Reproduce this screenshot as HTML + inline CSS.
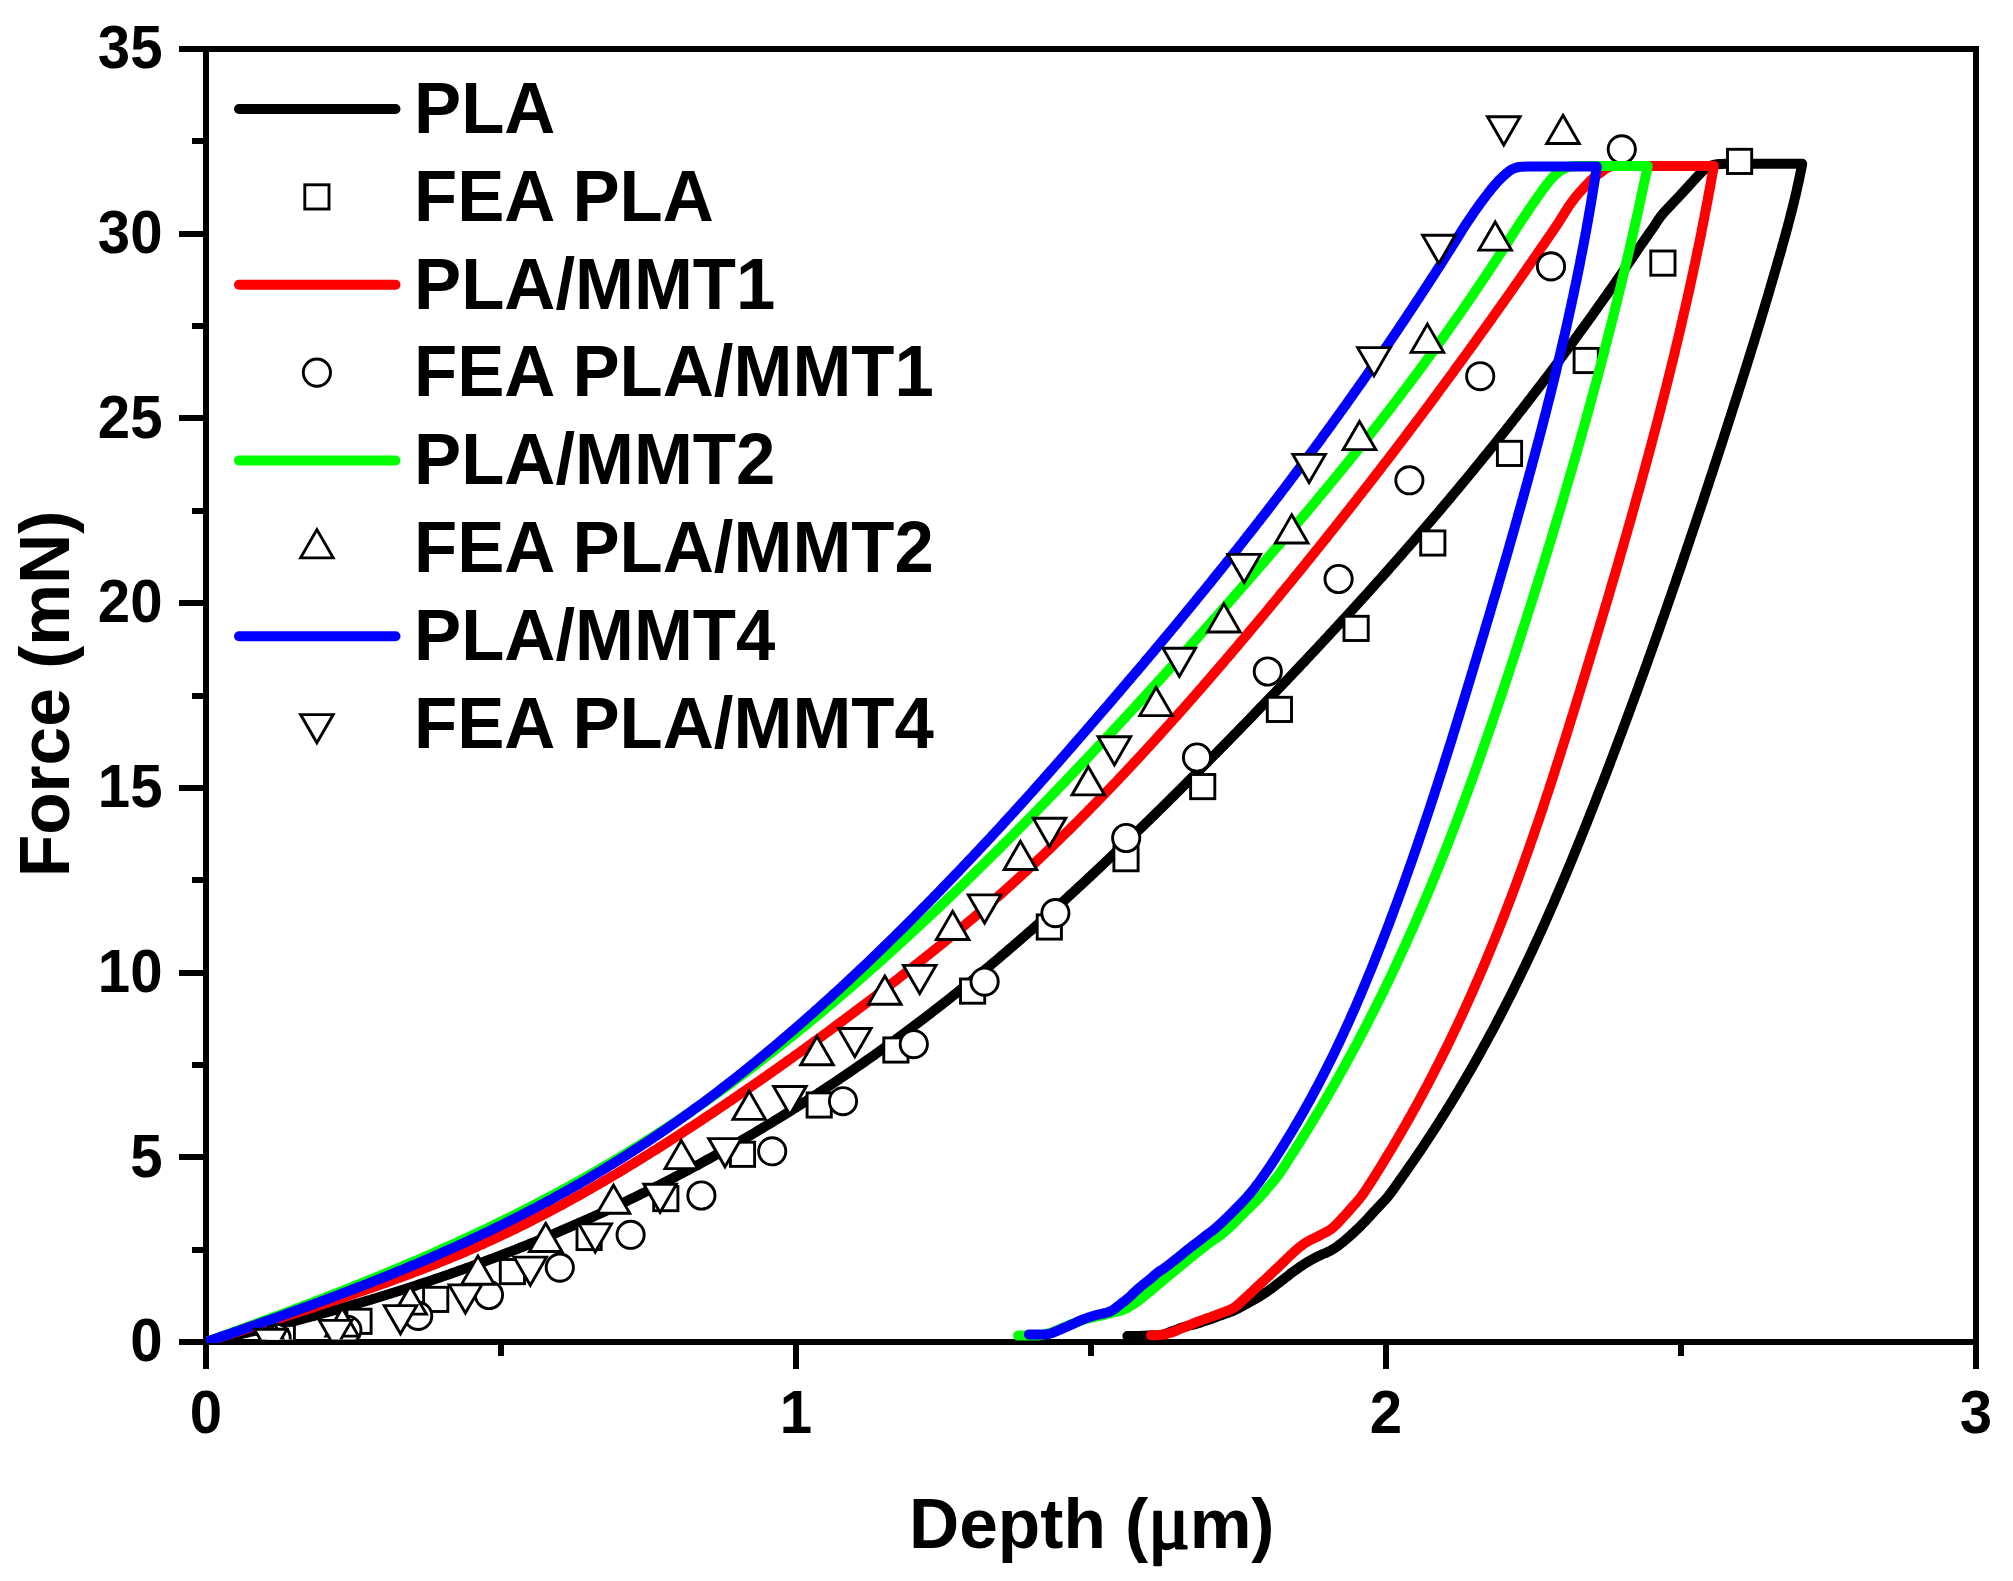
<!DOCTYPE html>
<html lang="en"><head><meta charset="utf-8"><title>Force vs Depth</title>
<style>html,body{margin:0;padding:0;background:#fff}body{width:2013px;height:1581px;overflow:hidden}svg{display:block}text{font-family:"Liberation Sans",Arial,sans-serif;font-weight:bold;fill:#000}.tk{font-size:60.4px}.lg{font-size:71.8px}.ti{font-size:71px}.mu{font-family:"Liberation Serif","DejaVu Serif",serif;font-weight:normal;font-size:79px;stroke:#000;stroke-width:2.4px;stroke-linejoin:round}</style></head><body>
<svg width="2013" height="1581" viewBox="0 0 2013 1581">
<rect width="2013" height="1581" fill="#fff"/>
<defs><clipPath id="cl"><rect x="206.0" y="49.0" width="1770.0" height="1294.0"/></clipPath><clipPath id="cm"><rect x="206.0" y="49.0" width="1770.0" height="1290.5"/></clipPath></defs>
<g stroke="#000" stroke-width="6" fill="none" shape-rendering="crispEdges">
<rect x="206.0" y="49.0" width="1770.0" height="1293.0"/>
<path d="M179.0 1342.0H206.0M192.0 1249.6H206.0M179.0 1157.3H206.0M192.0 1064.9H206.0M179.0 972.6H206.0M192.0 880.2H206.0M179.0 787.9H206.0M192.0 695.5H206.0M179.0 603.1H206.0M192.0 510.8H206.0M179.0 418.4H206.0M192.0 326.1H206.0M179.0 233.7H206.0M192.0 141.4H206.0M179.0 49.0H206.0M206.0 1342.0V1369.0M501.0 1342.0V1356.0M796.0 1342.0V1369.0M1091.0 1342.0V1356.0M1386.0 1342.0V1369.0M1681.0 1342.0V1356.0M1976.0 1342.0V1369.0"/>
</g>
<text class="tk" text-anchor="end" transform="translate(162.5 1361.3) scale(0.9635 1)">0</text>
<text class="tk" text-anchor="end" transform="translate(162.5 1176.6) scale(0.9635 1)">5</text>
<text class="tk" text-anchor="end" transform="translate(162.5 991.9) scale(0.9635 1)">10</text>
<text class="tk" text-anchor="end" transform="translate(162.5 807.2) scale(0.9635 1)">15</text>
<text class="tk" text-anchor="end" transform="translate(162.5 622.4) scale(0.9635 1)">20</text>
<text class="tk" text-anchor="end" transform="translate(162.5 437.7) scale(0.9635 1)">25</text>
<text class="tk" text-anchor="end" transform="translate(162.5 253.0) scale(0.9635 1)">30</text>
<text class="tk" text-anchor="end" transform="translate(162.5 68.3) scale(0.9635 1)">35</text>
<text class="tk" text-anchor="middle" transform="translate(206.0 1432.6) scale(0.9635 1)">0</text>
<text class="tk" text-anchor="middle" transform="translate(796.0 1432.6) scale(0.9635 1)">1</text>
<text class="tk" text-anchor="middle" transform="translate(1386.0 1432.6) scale(0.9635 1)">2</text>
<text class="tk" text-anchor="middle" transform="translate(1976.0 1432.6) scale(0.9635 1)">3</text>
<text class="ti" text-anchor="middle" transform="translate(1091.8 1548.0) scale(0.978 1)">Depth (<tspan class="mu">μ</tspan>m)</text>
<text class="ti" text-anchor="middle" transform="translate(69.0 694.0) rotate(-90) scale(0.978 1)">Force (mN)</text>
<path clip-path="url(#cl)" d="M206.0 1342.0L208.4 1341.5L210.9 1340.9L213.3 1340.4L215.8 1339.9L218.2 1339.3L220.7 1338.8L223.1 1338.2L225.6 1337.7L228.0 1337.1L230.4 1336.6L232.9 1336.0L235.3 1335.4L237.8 1334.9L240.2 1334.3L242.6 1333.7L245.1 1333.2L247.5 1332.6L249.9 1332.0L252.4 1331.4L254.8 1330.9L257.2 1330.3L259.7 1329.7L262.1 1329.1L264.5 1328.5L267.0 1327.9L269.4 1327.3L271.8 1326.7L274.3 1326.1L276.7 1325.5L279.1 1324.9L281.6 1324.3L284.0 1323.7L286.4 1323.1L288.8 1322.4L291.3 1321.8L293.7 1321.2L296.1 1320.6L298.5 1319.9L301.0 1319.3L303.4 1318.7L305.8 1318.0L308.2 1317.4L310.6 1316.7L313.1 1316.1L315.5 1315.4L317.9 1314.8L320.3 1314.1L322.7 1313.5L325.1 1312.8L327.5 1312.1L330.0 1311.5L332.4 1310.8L334.8 1310.1L337.2 1309.4L339.6 1308.8L342.0 1308.1L344.4 1307.4L346.8 1306.7L349.2 1306.0L351.6 1305.3L354.0 1304.6L356.4 1303.9L358.8 1303.2L361.2 1302.5L363.6 1301.8L366.0 1301.1L368.4 1300.4L370.8 1299.7L373.2 1298.9L375.6 1298.2L378.0 1297.5L380.4 1296.7L382.8 1296.0L385.2 1295.3L387.6 1294.5L390.0 1293.8L392.4 1293.0L394.8 1292.3L397.2 1291.5L399.5 1290.8L401.9 1290.0L404.3 1289.3L406.7 1288.5L409.1 1287.7L411.5 1286.9L413.8 1286.2L416.2 1285.4L418.6 1284.6L421.0 1283.8L423.4 1283.0L425.7 1282.2L428.1 1281.5L430.5 1280.7L432.8 1279.9L435.2 1279.0L437.6 1278.2L440.0 1277.4L442.3 1276.6L444.7 1275.8L447.1 1275.0L449.4 1274.2L451.8 1273.3L454.1 1272.5L456.5 1271.7L458.9 1270.8L461.2 1270.0L463.6 1269.1L465.9 1268.3L468.3 1267.4L470.6 1266.6L473.0 1265.7L475.3 1264.9L477.7 1264.0L480.0 1263.1L482.4 1262.3L484.7 1261.4L487.1 1260.5L489.4 1259.6L491.8 1258.8L494.1 1257.9L496.5 1257.0L498.8 1256.1L501.1 1255.2L503.5 1254.3L505.8 1253.4L508.1 1252.5L510.5 1251.6L512.8 1250.7L515.1 1249.8L517.5 1248.8L519.8 1247.9L522.1 1247.0L524.4 1246.1L526.8 1245.1L529.1 1244.2L531.4 1243.2L533.7 1242.3L536.0 1241.4L538.4 1240.4L540.7 1239.4L543.0 1238.5L545.3 1237.5L547.6 1236.6L549.9 1235.6L552.2 1234.6L554.5 1233.7L556.8 1232.7L559.1 1231.7L561.4 1230.7L563.7 1229.7L566.0 1228.7L568.3 1227.7L570.6 1226.7L572.9 1225.7L575.2 1224.7L577.5 1223.7L579.8 1222.7L582.1 1221.7L584.4 1220.7L586.7 1219.7L588.9 1218.6L591.2 1217.6L593.5 1216.6L595.8 1215.5L598.1 1214.5L600.3 1213.5L602.6 1212.4L604.9 1211.4L607.2 1210.3L609.4 1209.3L611.7 1208.2L614.0 1207.1L616.2 1206.1L618.5 1205.0L620.8 1203.9L623.0 1202.9L625.3 1201.8L627.5 1200.7L629.8 1199.6L632.0 1198.5L634.3 1197.4L636.6 1196.3L638.8 1195.2L641.1 1194.1L643.3 1193.0L645.5 1191.9L647.8 1190.8L650.0 1189.7L652.3 1188.6L654.5 1187.5L656.7 1186.3L659.0 1185.2L661.2 1184.1L663.4 1182.9L665.7 1181.8L667.9 1180.6L670.1 1179.5L672.3 1178.4L674.6 1177.2L676.8 1176.0L679.0 1174.9L681.2 1173.7L683.4 1172.6L685.6 1171.4L687.9 1170.2L690.1 1169.0L692.3 1167.9L694.5 1166.7L696.7 1165.5L698.9 1164.3L701.1 1163.1L703.3 1161.9L705.5 1160.7L707.7 1159.5L709.9 1158.3L712.1 1157.1L714.3 1155.9L716.4 1154.7L718.6 1153.4L720.8 1152.2L723.0 1151.0L725.2 1149.8L727.4 1148.5L729.5 1147.3L731.7 1146.1L733.9 1144.8L736.1 1143.6L738.2 1142.3L740.4 1141.1L742.6 1139.8L744.7 1138.6L746.9 1137.3L749.1 1136.0L751.2 1134.8L753.4 1133.5L755.5 1132.2L757.7 1130.9L759.8 1129.7L762.0 1128.4L764.1 1127.1L766.3 1125.8L768.4 1124.5L770.6 1123.2L772.7 1121.9L774.8 1120.6L777.0 1119.3L779.1 1118.0L781.2 1116.7L783.4 1115.4L785.5 1114.0L787.6 1112.7L789.7 1111.4L791.9 1110.1L794.0 1108.7L796.1 1107.4L798.2 1106.1L800.3 1104.7L802.4 1103.4L804.5 1102.0L806.7 1100.7L808.8 1099.3L810.9 1098.0L813.0 1096.6L815.1 1095.2L817.2 1093.9L819.3 1092.5L821.4 1091.1L823.4 1089.8L825.5 1088.4L827.6 1087.0L829.7 1085.6L831.8 1084.2L833.9 1082.8L836.0 1081.4L838.0 1080.0L840.1 1078.6L842.2 1077.2L844.3 1075.8L846.3 1074.4L848.4 1073.0L850.5 1071.6L852.5 1070.2L854.6 1068.8L856.6 1067.3L858.7 1065.9L860.8 1064.5L862.8 1063.1L864.9 1061.6L866.9 1060.2L869.0 1058.7L871.0 1057.3L873.1 1055.9L875.1 1054.4L877.1 1053.0L879.2 1051.5L881.2 1050.0L883.2 1048.6L885.3 1047.1L887.3 1045.6L889.3 1044.2L891.4 1042.7L893.4 1041.2L895.4 1039.8L897.4 1038.3L899.4 1036.8L901.4 1035.3L903.5 1033.8L905.5 1032.3L907.5 1030.8L909.5 1029.3L911.5 1027.8L913.5 1026.3L915.5 1024.8L917.5 1023.3L919.5 1021.8L921.5 1020.3L923.5 1018.8L925.5 1017.3L927.4 1015.7L929.4 1014.2L931.4 1012.7L933.4 1011.1L935.4 1009.6L937.4 1008.1L939.3 1006.5L941.3 1005.0L943.3 1003.5L945.2 1001.9L947.2 1000.4L949.2 998.8L951.1 997.3L953.1 995.7L955.1 994.1L957.0 992.6L959.0 991.0L960.9 989.4L962.9 987.9L964.8 986.3L966.8 984.7L968.7 983.1L970.6 981.6L972.6 980.0L974.5 978.4L976.5 976.8L978.4 975.2L980.3 973.6L982.2 972.0L984.2 970.4L986.1 968.8L988.0 967.2L989.9 965.6L991.9 964.0L993.8 962.4L995.7 960.8L997.6 959.2L999.5 957.6L1001.4 955.9L1003.3 954.3L1005.2 952.7L1007.1 951.1L1009.0 949.4L1010.9 947.8L1012.8 946.2L1014.7 944.5L1016.6 942.9L1018.5 941.2L1020.4 939.6L1022.3 938.0L1024.2 936.3L1026.1 934.7L1027.9 933.0L1029.8 931.4L1031.7 929.7L1033.6 928.0L1035.4 926.4L1037.3 924.7L1039.2 923.1L1041.1 921.4L1042.9 919.7L1044.8 918.1L1046.7 916.4L1048.5 914.7L1050.4 913.0L1052.2 911.4L1054.1 909.7L1056.0 908.0L1057.8 906.3L1059.7 904.6L1061.5 903.0L1063.4 901.3L1065.2 899.6L1067.1 897.9L1068.9 896.2L1070.7 894.5L1072.6 892.8L1074.4 891.1L1076.3 889.4L1078.1 887.7L1079.9 886.0L1081.8 884.3L1083.6 882.6L1085.4 880.9L1087.3 879.2L1089.1 877.5L1090.9 875.8L1092.8 874.1L1094.6 872.3L1096.4 870.6L1098.2 868.9L1100.1 867.2L1101.9 865.5L1103.7 863.8L1105.5 862.0L1107.3 860.3L1109.1 858.6L1111.0 856.9L1112.8 855.1L1114.6 853.4L1116.4 851.7L1118.2 850.0L1120.0 848.2L1121.8 846.5L1123.6 844.8L1125.4 843.0L1127.2 841.3L1129.0 839.5L1130.8 837.8L1132.6 836.1L1134.4 834.3L1136.2 832.6L1138.0 830.8L1139.8 829.1L1141.6 827.4L1143.4 825.6L1145.2 823.9L1147.0 822.1L1148.8 820.4L1150.6 818.6L1152.4 816.9L1154.2 815.1L1155.9 813.4L1157.7 811.6L1159.5 809.8L1161.3 808.1L1163.1 806.3L1164.9 804.6L1166.6 802.8L1168.4 801.1L1170.2 799.3L1172.0 797.5L1173.8 795.8L1175.5 794.0L1177.3 792.2L1179.1 790.5L1180.9 788.7L1182.6 786.9L1184.4 785.2L1186.2 783.4L1188.0 781.6L1189.7 779.9L1191.5 778.1L1193.3 776.3L1195.0 774.5L1196.8 772.8L1198.6 771.0L1200.3 769.2L1202.1 767.4L1203.8 765.7L1205.6 763.9L1207.4 762.1L1209.1 760.3L1210.9 758.5L1212.6 756.8L1214.4 755.0L1216.2 753.2L1217.9 751.4L1219.7 749.6L1221.4 747.8L1223.2 746.1L1224.9 744.3L1226.7 742.5L1228.4 740.7L1230.2 738.9L1231.9 737.1L1233.7 735.3L1235.4 733.5L1237.2 731.7L1238.9 729.9L1240.7 728.1L1242.4 726.3L1244.2 724.5L1245.9 722.8L1247.6 721.0L1249.4 719.2L1251.1 717.4L1252.9 715.6L1254.6 713.8L1256.3 711.9L1258.1 710.1L1259.8 708.3L1261.5 706.5L1263.3 704.7L1265.0 702.9L1266.7 701.1L1268.5 699.3L1270.2 697.5L1271.9 695.7L1273.7 693.9L1275.4 692.1L1277.1 690.3L1278.9 688.5L1280.6 686.6L1282.3 684.8L1284.0 683.0L1285.8 681.2L1287.5 679.4L1289.2 677.6L1290.9 675.8L1292.7 673.9L1294.4 672.1L1296.1 670.3L1297.8 668.5L1299.5 666.7L1301.2 664.8L1303.0 663.0L1304.7 661.2L1306.4 659.4L1308.1 657.5L1309.8 655.7L1311.5 653.9L1313.2 652.1L1315.0 650.2L1316.7 648.4L1318.4 646.6L1320.1 644.7L1321.8 642.9L1323.5 641.1L1325.2 639.2L1326.9 637.4L1328.6 635.6L1330.3 633.7L1332.0 631.9L1333.7 630.1L1335.4 628.2L1337.1 626.4L1338.8 624.5L1340.5 622.7L1342.2 620.8L1343.9 619.0L1345.6 617.2L1347.3 615.3L1348.9 613.5L1350.6 611.6L1352.3 609.8L1354.0 607.9L1355.7 606.1L1357.4 604.2L1359.1 602.4L1360.7 600.5L1362.4 598.7L1364.1 596.8L1365.8 594.9L1367.5 593.1L1369.1 591.2L1370.8 589.4L1372.5 587.5L1374.2 585.6L1375.8 583.8L1377.5 581.9L1379.2 580.0L1380.8 578.2L1382.5 576.3L1384.2 574.4L1385.8 572.6L1387.5 570.7L1389.2 568.8L1390.8 566.9L1392.5 565.1L1394.1 563.2L1395.8 561.3L1397.4 559.4L1399.1 557.6L1400.7 555.7L1402.4 553.8L1404.0 551.9L1405.7 550.0L1407.3 548.1L1409.0 546.3L1410.6 544.4L1412.3 542.5L1413.9 540.6L1415.6 538.7L1417.2 536.8L1418.8 534.9L1420.5 533.0L1422.1 531.1L1423.7 529.2L1425.4 527.3L1427.0 525.4L1428.6 523.5L1430.3 521.6L1431.9 519.7L1433.5 517.8L1435.1 515.9L1436.8 514.0L1438.4 512.1L1440.0 510.2L1441.6 508.3L1443.2 506.4L1444.8 504.4L1446.5 502.5L1448.1 500.6L1449.7 498.7L1451.3 496.8L1452.9 494.9L1454.5 492.9L1456.1 491.0L1457.7 489.1L1459.3 487.2L1460.9 485.2L1462.5 483.3L1464.1 481.4L1465.7 479.5L1467.3 477.5L1468.9 475.6L1470.5 473.7L1472.1 471.7L1473.7 469.8L1475.2 467.9L1476.8 465.9L1478.4 464.0L1480.0 462.0L1481.6 460.1L1483.1 458.2L1484.7 456.2L1486.3 454.3L1487.9 452.3L1489.4 450.4L1491.0 448.4L1492.6 446.5L1494.2 444.5L1495.7 442.6L1497.3 440.6L1498.8 438.7L1500.4 436.7L1502.0 434.7L1503.5 432.8L1505.1 430.8L1506.6 428.9L1508.2 426.9L1509.7 424.9L1511.3 423.0L1512.8 421.0L1514.4 419.0L1515.9 417.1L1517.5 415.1L1519.0 413.1L1520.5 411.1L1522.1 409.2L1523.6 407.2L1525.2 405.2L1526.7 403.2L1528.2 401.2L1529.7 399.3L1531.3 397.3L1532.8 395.3L1534.3 393.3L1535.9 391.3L1537.4 389.3L1538.9 387.3L1540.4 385.4L1541.9 383.4L1543.4 381.4L1545.0 379.4L1546.5 377.4L1548.0 375.4L1549.5 373.4L1551.0 371.4L1552.5 369.4L1554.0 367.4L1555.5 365.4L1557.0 363.4L1558.5 361.4L1560.0 359.4L1561.5 357.3L1563.0 355.3L1564.5 353.3L1566.0 351.3L1567.4 349.3L1568.9 347.3L1570.4 345.3L1571.9 343.3L1573.4 341.2L1574.9 339.2L1576.3 337.2L1577.8 335.2L1579.3 333.1L1580.8 331.1L1582.2 329.1L1583.7 327.1L1585.2 325.0L1586.6 323.0L1588.1 321.0L1589.5 318.9L1591.0 316.9L1592.5 314.9L1593.9 312.8L1595.4 310.8L1596.8 308.8L1598.3 306.7L1599.7 304.7L1601.2 302.6L1602.6 300.6L1604.1 298.6L1605.5 296.5L1607.0 294.5L1608.4 292.4L1609.8 290.4L1611.3 288.3L1612.7 286.3L1614.1 284.2L1615.6 282.2L1617.0 280.1L1618.4 278.0L1619.8 276.0L1621.3 273.9L1622.7 271.9L1624.1 269.8L1625.5 267.7L1626.9 265.7L1628.4 263.6L1629.8 261.5L1631.2 259.5L1632.6 257.4L1634.0 255.3L1635.4 253.2L1636.8 251.2L1638.2 249.1L1639.6 247.0L1641.0 245.0L1642.4 242.9L1643.9 240.9L1645.3 238.8L1646.8 236.8L1648.2 234.7L1649.6 232.7L1651.1 230.6L1652.5 228.5L1653.9 226.5L1655.3 224.4L1656.6 222.3L1658.0 220.2L1659.5 218.1L1660.9 216.1L1662.5 214.2L1664.1 212.3L1665.8 210.4L1667.5 208.6L1669.3 206.8L1671.0 205.0L1672.7 203.1L1674.4 201.3L1676.2 199.5L1677.9 197.7L1679.6 195.9L1681.3 194.0L1683.0 192.2L1684.7 190.3L1686.4 188.5L1688.1 186.7L1689.7 184.8L1691.4 183.0L1693.1 181.1L1694.8 179.3L1696.5 177.4L1698.2 175.6L1700.0 173.8L1701.7 172.0L1703.6 170.3L1705.6 168.8L1707.6 167.3L1709.8 166.2L1712.2 165.3L1714.6 164.7L1717.1 164.3L1719.6 164.0L1722.1 163.9L1724.6 163.8L1727.1 163.8L1729.6 163.8L1732.1 163.8L1734.6 163.8L1737.1 163.8L1739.6 163.8L1742.1 163.8L1744.6 163.8L1747.1 163.8L1749.6 163.8L1752.1 163.8L1754.6 163.8L1757.1 163.8L1759.6 163.8L1762.1 163.8L1764.6 163.8L1767.2 163.8L1769.7 163.8L1772.2 163.8L1774.7 163.8L1777.2 163.8L1779.7 163.8L1782.2 163.8L1784.7 163.8L1787.2 163.8L1789.7 163.8L1792.2 163.8L1794.7 163.8L1797.2 163.8L1799.7 163.8L1802.2 163.8L1801.8 166.3L1801.3 168.7L1800.8 171.2L1800.3 173.6L1799.8 176.1L1799.3 178.6L1798.8 181.0L1798.2 183.5L1797.7 185.9L1797.1 188.4L1796.6 190.8L1796.0 193.3L1795.5 195.7L1794.9 198.1L1794.3 200.6L1793.7 203.0L1793.1 205.4L1792.5 207.9L1791.9 210.3L1791.3 212.7L1790.6 215.2L1790.0 217.6L1789.4 220.0L1788.7 222.5L1788.1 224.9L1787.5 227.3L1786.8 229.7L1786.2 232.1L1785.5 234.6L1784.8 237.0L1784.2 239.4L1783.5 241.8L1782.8 244.2L1782.1 246.7L1781.5 249.1L1780.8 251.5L1780.1 253.9L1779.4 256.3L1778.7 258.7L1778.0 261.1L1777.3 263.5L1776.6 266.0L1775.9 268.4L1775.2 270.8L1774.5 273.2L1773.8 275.6L1773.1 278.0L1772.4 280.4L1771.7 282.8L1771.0 285.2L1770.3 287.6L1769.6 290.0L1768.9 292.4L1768.2 294.8L1767.5 297.2L1766.8 299.6L1766.0 302.1L1765.3 304.5L1764.6 306.9L1763.9 309.3L1763.2 311.7L1762.4 314.1L1761.7 316.5L1761.0 318.9L1760.3 321.3L1759.5 323.7L1758.8 326.1L1758.1 328.5L1757.3 330.9L1756.6 333.3L1755.9 335.7L1755.1 338.1L1754.4 340.5L1753.7 342.9L1752.9 345.3L1752.2 347.6L1751.4 350.0L1750.7 352.4L1750.0 354.8L1749.2 357.2L1748.5 359.6L1747.7 362.0L1747.0 364.4L1746.2 366.8L1745.5 369.2L1744.7 371.6L1744.0 374.0L1743.2 376.4L1742.5 378.8L1741.7 381.2L1741.0 383.6L1740.2 385.9L1739.4 388.3L1738.7 390.7L1737.9 393.1L1737.2 395.5L1736.4 397.9L1735.6 400.3L1734.9 402.7L1734.1 405.1L1733.3 407.5L1732.6 409.8L1731.8 412.2L1731.1 414.6L1730.3 417.0L1729.5 419.4L1728.7 421.8L1728.0 424.2L1727.2 426.6L1726.4 428.9L1725.7 431.3L1724.9 433.7L1724.1 436.1L1723.4 438.5L1722.6 440.9L1721.8 443.3L1721.0 445.7L1720.3 448.0L1719.5 450.4L1718.7 452.8L1717.9 455.2L1717.2 457.6L1716.4 460.0L1715.6 462.3L1714.8 464.7L1714.0 467.1L1713.3 469.5L1712.5 471.9L1711.7 474.3L1710.9 476.7L1710.1 479.0L1709.3 481.4L1708.6 483.8L1707.8 486.2L1707.0 488.6L1706.2 490.9L1705.4 493.3L1704.6 495.7L1703.8 498.1L1703.1 500.5L1702.3 502.9L1701.5 505.2L1700.7 507.6L1699.9 510.0L1699.1 512.4L1698.3 514.8L1697.5 517.1L1696.7 519.5L1695.9 521.9L1695.1 524.3L1694.3 526.6L1693.5 529.0L1692.7 531.4L1691.9 533.8L1691.1 536.2L1690.3 538.5L1689.5 540.9L1688.7 543.3L1687.9 545.7L1687.1 548.0L1686.3 550.4L1685.5 552.8L1684.7 555.2L1683.9 557.5L1683.1 559.9L1682.3 562.3L1681.5 564.7L1680.7 567.0L1679.9 569.4L1679.1 571.8L1678.2 574.2L1677.4 576.5L1676.6 578.9L1675.8 581.3L1675.0 583.6L1674.2 586.0L1673.3 588.4L1672.5 590.8L1671.7 593.1L1670.9 595.5L1670.1 597.9L1669.2 600.2L1668.4 602.6L1667.6 605.0L1666.8 607.3L1666.0 609.7L1665.1 612.1L1664.3 614.5L1663.5 616.8L1662.6 619.2L1661.8 621.6L1661.0 623.9L1660.1 626.3L1659.3 628.7L1658.5 631.0L1657.6 633.4L1656.8 635.8L1656.0 638.1L1655.1 640.5L1654.3 642.8L1653.5 645.2L1652.6 647.6L1651.8 649.9L1650.9 652.3L1650.1 654.7L1649.2 657.0L1648.4 659.4L1647.6 661.7L1646.7 664.1L1645.9 666.5L1645.0 668.8L1644.2 671.2L1643.3 673.5L1642.5 675.9L1641.6 678.3L1640.7 680.6L1639.9 683.0L1639.0 685.3L1638.2 687.7L1637.3 690.0L1636.5 692.4L1635.6 694.8L1634.7 697.1L1633.9 699.5L1633.0 701.8L1632.1 704.2L1631.3 706.5L1630.4 708.9L1629.5 711.2L1628.7 713.6L1627.8 715.9L1626.9 718.3L1626.1 720.6L1625.2 723.0L1624.3 725.3L1623.4 727.7L1622.6 730.0L1621.7 732.4L1620.8 734.7L1619.9 737.1L1619.0 739.4L1618.2 741.8L1617.3 744.1L1616.4 746.5L1615.5 748.8L1614.6 751.2L1613.7 753.5L1612.8 755.9L1611.9 758.2L1611.0 760.6L1610.2 762.9L1609.3 765.2L1608.4 767.6L1607.5 769.9L1606.6 772.3L1605.7 774.6L1604.8 777.0L1603.9 779.3L1603.0 781.6L1602.1 784.0L1601.2 786.3L1600.2 788.7L1599.3 791.0L1598.4 793.3L1597.5 795.7L1596.6 798.0L1595.7 800.3L1594.8 802.7L1593.9 805.0L1593.0 807.3L1592.0 809.7L1591.1 812.0L1590.2 814.3L1589.3 816.7L1588.3 819.0L1587.4 821.3L1586.5 823.7L1585.6 826.0L1584.6 828.3L1583.7 830.7L1582.8 833.0L1581.8 835.3L1580.9 837.6L1580.0 840.0L1579.0 842.3L1578.1 844.6L1577.1 846.9L1576.2 849.3L1575.2 851.6L1574.3 853.9L1573.3 856.2L1572.4 858.6L1571.4 860.9L1570.5 863.2L1569.5 865.5L1568.6 867.8L1567.6 870.1L1566.6 872.5L1565.7 874.8L1564.7 877.1L1563.7 879.4L1562.7 881.7L1561.8 884.0L1560.8 886.3L1559.8 888.6L1558.8 890.9L1557.8 893.2L1556.8 895.5L1555.8 897.8L1554.8 900.2L1553.9 902.5L1552.9 904.8L1551.8 907.1L1550.8 909.4L1549.8 911.6L1548.8 913.9L1547.8 916.2L1546.8 918.5L1545.8 920.8L1544.8 923.1L1543.7 925.4L1542.7 927.7L1541.7 930.0L1540.6 932.3L1539.6 934.5L1538.6 936.8L1537.5 939.1L1536.5 941.4L1535.4 943.7L1534.4 945.9L1533.3 948.2L1532.3 950.5L1531.2 952.8L1530.1 955.0L1529.1 957.3L1528.0 959.6L1526.9 961.9L1525.9 964.1L1524.8 966.4L1523.7 968.6L1522.6 970.9L1521.5 973.2L1520.4 975.4L1519.3 977.7L1518.2 979.9L1517.1 982.2L1516.0 984.4L1514.9 986.7L1513.8 988.9L1512.7 991.2L1511.6 993.4L1510.4 995.7L1509.3 997.9L1508.2 1000.1L1507.1 1002.4L1505.9 1004.6L1504.8 1006.9L1503.6 1009.1L1502.5 1011.3L1501.3 1013.5L1500.2 1015.8L1499.0 1018.0L1497.9 1020.2L1496.7 1022.4L1495.5 1024.7L1494.4 1026.9L1493.2 1029.1L1492.0 1031.3L1490.8 1033.5L1489.6 1035.7L1488.4 1037.9L1487.2 1040.1L1486.0 1042.3L1484.8 1044.5L1483.6 1046.7L1482.4 1048.9L1481.2 1051.1L1480.0 1053.3L1478.8 1055.5L1477.5 1057.7L1476.3 1059.9L1475.1 1062.1L1473.8 1064.3L1472.6 1066.4L1471.3 1068.6L1470.1 1070.8L1468.8 1073.0L1467.6 1075.1L1466.3 1077.3L1465.1 1079.5L1463.8 1081.6L1462.5 1083.8L1461.2 1085.9L1460.0 1088.1L1458.7 1090.3L1457.4 1092.4L1456.1 1094.6L1454.8 1096.7L1453.5 1098.8L1452.2 1101.0L1450.9 1103.1L1449.6 1105.3L1448.2 1107.4L1446.9 1109.5L1445.6 1111.7L1444.3 1113.8L1442.9 1115.9L1441.6 1118.0L1440.3 1120.2L1438.9 1122.3L1437.6 1124.4L1436.2 1126.5L1434.9 1128.6L1433.5 1130.7L1432.1 1132.8L1430.8 1134.9L1429.4 1137.0L1428.0 1139.1L1426.6 1141.2L1425.2 1143.3L1423.9 1145.4L1422.5 1147.5L1421.1 1149.6L1419.7 1151.6L1418.3 1153.7L1416.8 1155.8L1415.4 1157.9L1414.0 1159.9L1412.6 1162.0L1411.2 1164.1L1409.7 1166.1L1408.3 1168.2L1406.9 1170.2L1405.4 1172.3L1404.0 1174.3L1402.5 1176.4L1401.1 1178.4L1399.6 1180.5L1398.2 1182.5L1396.7 1184.6L1395.3 1186.7L1393.9 1188.7L1392.4 1190.8L1390.9 1192.8L1389.4 1194.8L1387.8 1196.7L1386.2 1198.6L1384.6 1200.5L1382.8 1202.3L1381.1 1204.1L1379.4 1206.0L1377.6 1207.8L1375.9 1209.6L1374.2 1211.4L1372.5 1213.3L1370.8 1215.2L1369.1 1217.0L1367.4 1218.9L1365.7 1220.7L1364.0 1222.5L1362.2 1224.3L1360.5 1226.1L1358.7 1227.8L1356.9 1229.6L1355.0 1231.3L1353.2 1233.0L1351.4 1234.7L1349.5 1236.4L1347.6 1238.0L1345.7 1239.7L1343.8 1241.3L1341.8 1242.9L1339.9 1244.4L1337.8 1245.9L1335.8 1247.4L1333.7 1248.8L1331.6 1250.1L1329.4 1251.2L1327.1 1252.3L1324.8 1253.3L1322.5 1254.2L1320.2 1255.3L1317.9 1256.3L1315.7 1257.5L1313.5 1258.7L1311.3 1259.9L1309.1 1261.1L1306.9 1262.4L1304.8 1263.7L1302.7 1265.1L1300.6 1266.5L1298.5 1267.9L1296.5 1269.4L1294.5 1270.8L1292.4 1272.3L1290.4 1273.8L1288.5 1275.4L1286.5 1276.9L1284.5 1278.5L1282.5 1280.0L1280.5 1281.5L1278.6 1283.1L1276.6 1284.6L1274.6 1286.1L1272.6 1287.7L1270.6 1289.2L1268.5 1290.6L1266.5 1292.0L1264.4 1293.4L1262.3 1294.8L1260.1 1296.1L1258.0 1297.4L1255.8 1298.7L1253.7 1299.9L1251.5 1301.1L1249.3 1302.3L1247.1 1303.5L1244.9 1304.7L1242.7 1306.0L1240.5 1307.2L1238.3 1308.4L1236.0 1309.5L1233.8 1310.6L1231.5 1311.5L1229.1 1312.4L1226.7 1313.2L1224.4 1314.1L1222.0 1314.9L1219.6 1315.7L1217.3 1316.6L1214.9 1317.5L1212.6 1318.3L1210.2 1319.2L1207.8 1320.0L1205.5 1320.8L1203.1 1321.6L1200.7 1322.4L1198.3 1323.2L1195.9 1323.9L1193.5 1324.6L1191.1 1325.2L1188.6 1325.7L1186.2 1326.4L1183.8 1327.0L1181.4 1327.8L1179.0 1328.7L1176.7 1329.6L1174.3 1330.5L1172.0 1331.3L1169.6 1332.2L1167.2 1333.1L1164.8 1334.0L1162.4 1334.6L1160.0 1335.0L1157.5 1335.2L1155.1 1335.3L1152.6 1335.4L1150.2 1335.5L1147.7 1335.6L1145.2 1335.7L1142.7 1335.8L1140.2 1335.9L1137.6 1335.9L1135.1 1335.9L1132.5 1336.0L1130.0 1336.0L1127.4 1336.0" fill="none" stroke="#000" stroke-width="10" stroke-linejoin="round" stroke-linecap="round"/>
<g clip-path="url(#cm)" fill="#fff" stroke="#000" stroke-width="2.9" stroke-linejoin="miter">
<rect x="1727.5" y="149.3" width="24.2" height="24.2"/>
<rect x="1650.8" y="251.0" width="24.2" height="24.2"/>
<rect x="1574.1" y="348.4" width="24.2" height="24.2"/>
<rect x="1497.4" y="441.3" width="24.2" height="24.2"/>
<rect x="1420.7" y="530.9" width="24.2" height="24.2"/>
<rect x="1344.0" y="616.3" width="24.2" height="24.2"/>
<rect x="1267.3" y="697.3" width="24.2" height="24.2"/>
<rect x="1190.6" y="774.5" width="24.2" height="24.2"/>
<rect x="1113.9" y="846.6" width="24.2" height="24.2"/>
<rect x="1037.2" y="914.9" width="24.2" height="24.2"/>
<rect x="960.5" y="979.0" width="24.2" height="24.2"/>
<rect x="883.8" y="1037.9" width="24.2" height="24.2"/>
<rect x="807.1" y="1092.9" width="24.2" height="24.2"/>
<rect x="730.4" y="1142.2" width="24.2" height="24.2"/>
<rect x="653.7" y="1186.5" width="24.2" height="24.2"/>
<rect x="577.0" y="1225.4" width="24.2" height="24.2"/>
<rect x="500.3" y="1259.5" width="24.2" height="24.2"/>
<rect x="423.6" y="1287.3" width="24.2" height="24.2"/>
<rect x="346.9" y="1309.2" width="24.2" height="24.2"/>
<rect x="270.2" y="1325.4" width="24.2" height="24.2"/>
</g>
<path clip-path="url(#cl)" d="M206.0 1342.0L208.4 1341.2L210.8 1340.4L213.1 1339.7L215.5 1338.9L217.9 1338.1L220.3 1337.3L222.7 1336.5L225.0 1335.8L227.4 1335.0L229.8 1334.2L232.2 1333.5L234.6 1332.7L237.0 1331.9L239.3 1331.2L241.7 1330.4L244.1 1329.6L246.5 1328.9L248.9 1328.1L251.3 1327.3L253.7 1326.6L256.0 1325.8L258.4 1325.0L260.8 1324.3L263.2 1323.5L265.6 1322.7L268.0 1322.0L270.4 1321.2L272.7 1320.4L275.1 1319.7L277.5 1318.9L279.9 1318.2L282.3 1317.4L284.7 1316.6L287.1 1315.9L289.4 1315.1L291.8 1314.3L294.2 1313.6L296.6 1312.8L299.0 1312.0L301.4 1311.2L303.7 1310.5L306.1 1309.7L308.5 1308.9L310.9 1308.2L313.3 1307.4L315.7 1306.6L318.0 1305.8L320.4 1305.0L322.8 1304.3L325.2 1303.5L327.6 1302.7L329.9 1301.9L332.3 1301.1L334.7 1300.3L337.1 1299.5L339.4 1298.7L341.8 1297.9L344.2 1297.2L346.6 1296.4L348.9 1295.5L351.3 1294.7L353.7 1293.9L356.0 1293.1L358.4 1292.3L360.8 1291.5L363.2 1290.7L365.5 1289.9L367.9 1289.0L370.2 1288.2L372.6 1287.4L375.0 1286.6L377.3 1285.7L379.7 1284.9L382.1 1284.0L384.4 1283.2L386.8 1282.4L389.1 1281.5L391.5 1280.7L393.8 1279.8L396.2 1278.9L398.5 1278.1L400.9 1277.2L403.2 1276.3L405.6 1275.5L407.9 1274.6L410.3 1273.7L412.6 1272.8L415.0 1271.9L417.3 1271.0L419.6 1270.1L422.0 1269.2L424.3 1268.3L426.7 1267.4L429.0 1266.5L431.3 1265.6L433.7 1264.7L436.0 1263.8L438.3 1262.8L440.6 1261.9L443.0 1261.0L445.3 1260.0L447.6 1259.1L449.9 1258.1L452.2 1257.2L454.5 1256.2L456.8 1255.2L459.2 1254.3L461.5 1253.3L463.8 1252.3L466.1 1251.3L468.4 1250.3L470.7 1249.3L473.0 1248.3L475.3 1247.3L477.6 1246.3L479.8 1245.3L482.1 1244.3L484.4 1243.3L486.7 1242.2L489.0 1241.2L491.3 1240.2L493.5 1239.1L495.8 1238.1L498.1 1237.0L500.4 1236.0L502.6 1234.9L504.9 1233.8L507.2 1232.7L509.4 1231.7L511.7 1230.6L513.9 1229.5L516.2 1228.4L518.4 1227.3L520.7 1226.2L522.9 1225.1L525.2 1224.0L527.4 1222.8L529.6 1221.7L531.9 1220.6L534.1 1219.4L536.3 1218.3L538.6 1217.1L540.8 1216.0L543.0 1214.8L545.2 1213.7L547.4 1212.5L549.7 1211.4L551.9 1210.2L554.1 1209.0L556.3 1207.8L558.5 1206.6L560.7 1205.5L562.9 1204.3L565.1 1203.1L567.3 1201.9L569.5 1200.7L571.7 1199.5L573.9 1198.2L576.1 1197.0L578.3 1195.8L580.5 1194.6L582.6 1193.4L584.8 1192.1L587.0 1190.9L589.2 1189.7L591.4 1188.4L593.5 1187.2L595.7 1185.9L597.9 1184.7L600.0 1183.4L602.2 1182.2L604.4 1180.9L606.5 1179.6L608.7 1178.4L610.8 1177.1L613.0 1175.8L615.2 1174.5L617.3 1173.2L619.5 1172.0L621.6 1170.7L623.8 1169.4L625.9 1168.1L628.0 1166.8L630.2 1165.5L632.3 1164.2L634.5 1162.9L636.6 1161.6L638.7 1160.3L640.9 1159.0L643.0 1157.6L645.1 1156.3L647.3 1155.0L649.4 1153.7L651.5 1152.3L653.6 1151.0L655.8 1149.7L657.9 1148.4L660.0 1147.0L662.1 1145.7L664.2 1144.3L666.3 1143.0L668.4 1141.6L670.6 1140.3L672.7 1138.9L674.8 1137.6L676.9 1136.2L679.0 1134.9L681.1 1133.5L683.2 1132.1L685.3 1130.8L687.4 1129.4L689.5 1128.0L691.6 1126.7L693.7 1125.3L695.8 1123.9L697.9 1122.6L700.0 1121.2L702.0 1119.8L704.1 1118.4L706.2 1117.0L708.3 1115.6L710.4 1114.2L712.5 1112.9L714.6 1111.5L716.6 1110.1L718.7 1108.7L720.8 1107.3L722.9 1105.9L724.9 1104.5L727.0 1103.1L729.1 1101.7L731.2 1100.3L733.2 1098.9L735.3 1097.4L737.4 1096.0L739.4 1094.6L741.5 1093.2L743.6 1091.8L745.6 1090.4L747.7 1088.9L749.8 1087.5L751.8 1086.1L753.9 1084.7L755.9 1083.2L758.0 1081.8L760.1 1080.4L762.1 1078.9L764.2 1077.5L766.2 1076.1L768.3 1074.6L770.3 1073.2L772.4 1071.8L774.4 1070.3L776.5 1068.9L778.5 1067.4L780.6 1066.0L782.6 1064.5L784.6 1063.1L786.7 1061.6L788.7 1060.2L790.8 1058.7L792.8 1057.3L794.8 1055.8L796.9 1054.3L798.9 1052.9L800.9 1051.4L803.0 1050.0L805.0 1048.5L807.0 1047.0L809.0 1045.5L811.1 1044.1L813.1 1042.6L815.1 1041.1L817.2 1039.7L819.2 1038.2L821.2 1036.7L823.2 1035.2L825.2 1033.7L827.3 1032.2L829.3 1030.8L831.3 1029.3L833.3 1027.8L835.3 1026.3L837.3 1024.8L839.3 1023.3L841.3 1021.8L843.4 1020.3L845.4 1018.8L847.4 1017.3L849.4 1015.8L851.4 1014.3L853.4 1012.8L855.4 1011.3L857.4 1009.8L859.4 1008.3L861.4 1006.8L863.4 1005.3L865.4 1003.8L867.4 1002.3L869.4 1000.7L871.4 999.2L873.4 997.7L875.4 996.2L877.3 994.7L879.3 993.1L881.3 991.6L883.3 990.1L885.3 988.6L887.3 987.0L889.3 985.5L891.2 984.0L893.2 982.5L895.2 980.9L897.2 979.4L899.2 977.8L901.1 976.3L903.1 974.8L905.1 973.2L907.1 971.7L909.0 970.1L911.0 968.6L913.0 967.0L914.9 965.5L916.9 963.9L918.9 962.4L920.8 960.8L922.8 959.3L924.8 957.7L926.7 956.2L928.7 954.6L930.6 953.0L932.6 951.5L934.5 949.9L936.5 948.3L938.4 946.7L940.4 945.2L942.3 943.6L944.3 942.0L946.2 940.4L948.1 938.8L950.1 937.2L952.0 935.7L954.0 934.1L955.9 932.5L957.8 930.9L959.7 929.3L961.7 927.7L963.6 926.1L965.5 924.5L967.4 922.8L969.3 921.2L971.3 919.6L973.2 918.0L975.1 916.4L977.0 914.7L978.9 913.1L980.8 911.5L982.7 909.9L984.6 908.2L986.5 906.6L988.4 904.9L990.3 903.3L992.1 901.6L994.0 900.0L995.9 898.3L997.8 896.7L999.7 895.0L1001.5 893.4L1003.4 891.7L1005.3 890.0L1007.2 888.4L1009.0 886.7L1010.9 885.0L1012.7 883.3L1014.6 881.7L1016.4 880.0L1018.3 878.3L1020.1 876.6L1022.0 874.9L1023.8 873.2L1025.7 871.5L1027.5 869.8L1029.3 868.1L1031.2 866.4L1033.0 864.7L1034.8 863.0L1036.7 861.2L1038.5 859.5L1040.3 857.8L1042.1 856.1L1043.9 854.3L1045.7 852.6L1047.5 850.9L1049.4 849.2L1051.2 847.4L1053.0 845.7L1054.8 843.9L1056.6 842.2L1058.4 840.4L1060.1 838.7L1061.9 836.9L1063.7 835.2L1065.5 833.4L1067.3 831.7L1069.1 829.9L1070.9 828.1L1072.6 826.4L1074.4 824.6L1076.2 822.8L1078.0 821.1L1079.7 819.3L1081.5 817.5L1083.2 815.7L1085.0 814.0L1086.8 812.2L1088.5 810.4L1090.3 808.6L1092.0 806.8L1093.8 805.0L1095.5 803.2L1097.3 801.4L1099.0 799.6L1100.8 797.8L1102.5 796.0L1104.3 794.2L1106.0 792.4L1107.7 790.6L1109.5 788.8L1111.2 787.0L1112.9 785.2L1114.7 783.4L1116.4 781.6L1118.1 779.8L1119.8 777.9L1121.5 776.1L1123.3 774.3L1125.0 772.5L1126.7 770.6L1128.4 768.8L1130.1 767.0L1131.8 765.2L1133.5 763.3L1135.2 761.5L1136.9 759.7L1138.7 757.8L1140.4 756.0L1142.1 754.1L1143.7 752.3L1145.4 750.5L1147.1 748.6L1148.8 746.8L1150.5 744.9L1152.2 743.1L1153.9 741.2L1155.6 739.4L1157.3 737.5L1159.0 735.7L1160.6 733.8L1162.3 731.9L1164.0 730.1L1165.7 728.2L1167.3 726.4L1169.0 724.5L1170.7 722.6L1172.4 720.8L1174.0 718.9L1175.7 717.0L1177.4 715.2L1179.0 713.3L1180.7 711.4L1182.4 709.5L1184.0 707.7L1185.7 705.8L1187.3 703.9L1189.0 702.0L1190.6 700.2L1192.3 698.3L1194.0 696.4L1195.6 694.5L1197.3 692.6L1198.9 690.7L1200.6 688.8L1202.2 687.0L1203.8 685.1L1205.5 683.2L1207.1 681.3L1208.8 679.4L1210.4 677.5L1212.0 675.6L1213.7 673.7L1215.3 671.8L1217.0 669.9L1218.6 668.0L1220.2 666.1L1221.9 664.2L1223.5 662.3L1225.1 660.4L1226.7 658.5L1228.4 656.6L1230.0 654.7L1231.6 652.8L1233.2 650.9L1234.9 649.0L1236.5 647.1L1238.1 645.2L1239.7 643.2L1241.3 641.3L1242.9 639.4L1244.6 637.5L1246.2 635.6L1247.8 633.7L1249.4 631.7L1251.0 629.8L1252.6 627.9L1254.2 626.0L1255.8 624.1L1257.4 622.2L1259.1 620.2L1260.7 618.3L1262.3 616.4L1263.9 614.5L1265.5 612.5L1267.1 610.6L1268.7 608.7L1270.3 606.7L1271.9 604.8L1273.5 602.9L1275.1 601.0L1276.7 599.0L1278.3 597.1L1279.8 595.2L1281.4 593.2L1283.0 591.3L1284.6 589.4L1286.2 587.4L1287.8 585.5L1289.4 583.6L1291.0 581.6L1292.6 579.7L1294.1 577.7L1295.7 575.8L1297.3 573.9L1298.9 571.9L1300.5 570.0L1302.0 568.0L1303.6 566.1L1305.2 564.1L1306.8 562.2L1308.4 560.2L1309.9 558.3L1311.5 556.3L1313.1 554.4L1314.6 552.4L1316.2 550.5L1317.8 548.5L1319.4 546.6L1320.9 544.6L1322.5 542.7L1324.1 540.7L1325.6 538.8L1327.2 536.8L1328.7 534.8L1330.3 532.9L1331.9 530.9L1333.4 529.0L1335.0 527.0L1336.5 525.0L1338.1 523.1L1339.7 521.1L1341.2 519.2L1342.8 517.2L1344.3 515.2L1345.9 513.3L1347.4 511.3L1349.0 509.3L1350.5 507.4L1352.1 505.4L1353.6 503.4L1355.2 501.4L1356.7 499.5L1358.2 497.5L1359.8 495.5L1361.3 493.6L1362.9 491.6L1364.4 489.6L1366.0 487.6L1367.5 485.7L1369.0 483.7L1370.6 481.7L1372.1 479.7L1373.6 477.7L1375.2 475.8L1376.7 473.8L1378.2 471.8L1379.8 469.8L1381.3 467.8L1382.8 465.8L1384.3 463.8L1385.9 461.9L1387.4 459.9L1388.9 457.9L1390.4 455.9L1392.0 453.9L1393.5 451.9L1395.0 449.9L1396.5 447.9L1398.0 445.9L1399.5 443.9L1401.1 442.0L1402.6 440.0L1404.1 438.0L1405.6 436.0L1407.1 434.0L1408.6 432.0L1410.1 430.0L1411.6 428.0L1413.1 426.0L1414.7 424.0L1416.2 422.0L1417.7 420.0L1419.2 418.0L1420.7 416.0L1422.2 414.0L1423.7 411.9L1425.2 409.9L1426.7 407.9L1428.2 405.9L1429.7 403.9L1431.2 401.9L1432.7 399.9L1434.1 397.9L1435.6 395.9L1437.1 393.9L1438.6 391.8L1440.1 389.8L1441.6 387.8L1443.1 385.8L1444.6 383.8L1446.1 381.8L1447.5 379.7L1449.0 377.7L1450.5 375.7L1452.0 373.7L1453.5 371.7L1454.9 369.6L1456.4 367.6L1457.9 365.6L1459.4 363.6L1460.9 361.6L1462.3 359.5L1463.8 357.5L1465.3 355.5L1466.7 353.5L1468.2 351.4L1469.7 349.4L1471.1 347.4L1472.6 345.3L1474.1 343.3L1475.5 341.3L1477.0 339.2L1478.5 337.2L1479.9 335.2L1481.4 333.1L1482.9 331.1L1484.3 329.1L1485.8 327.0L1487.2 325.0L1488.7 323.0L1490.1 320.9L1491.6 318.9L1493.0 316.8L1494.5 314.8L1495.9 312.7L1497.4 310.7L1498.8 308.7L1500.3 306.6L1501.7 304.6L1503.2 302.5L1504.6 300.5L1506.1 298.4L1507.5 296.4L1509.0 294.3L1510.4 292.3L1511.8 290.2L1513.3 288.2L1514.7 286.1L1516.2 284.1L1517.6 282.0L1519.0 280.0L1520.5 277.9L1521.9 275.9L1523.3 273.8L1524.8 271.8L1526.2 269.7L1527.6 267.6L1529.0 265.6L1530.5 263.5L1531.9 261.5L1533.3 259.4L1534.7 257.4L1536.2 255.3L1537.6 253.2L1539.0 251.2L1540.4 249.1L1541.8 247.0L1543.3 245.0L1544.7 242.9L1546.1 240.8L1547.5 238.8L1548.9 236.7L1550.4 234.6L1551.8 232.6L1553.2 230.5L1554.6 228.4L1556.0 226.4L1557.4 224.3L1558.8 222.2L1560.1 220.1L1561.4 217.9L1562.8 215.8L1564.1 213.7L1565.4 211.5L1566.8 209.4L1568.1 207.3L1569.5 205.2L1571.0 203.2L1572.4 201.2L1573.9 199.2L1575.5 197.2L1577.1 195.3L1578.7 193.4L1580.4 191.5L1582.1 189.7L1583.8 187.8L1585.5 186.0L1587.2 184.2L1588.9 182.3L1590.7 180.5L1592.5 178.8L1594.3 177.1L1596.3 175.6L1598.3 174.2L1600.4 172.7L1602.4 171.2L1604.4 169.6L1606.5 168.3L1608.8 167.1L1611.1 166.4L1613.6 166.1L1616.1 165.9L1618.6 165.9L1621.1 165.9L1623.6 165.9L1626.1 165.9L1628.6 165.9L1631.1 165.9L1633.6 165.9L1636.1 165.9L1638.7 165.9L1641.2 165.9L1643.7 165.9L1646.2 165.9L1648.7 165.9L1651.2 165.9L1653.7 165.9L1656.2 165.9L1658.7 165.9L1661.2 165.9L1663.7 165.9L1666.2 165.9L1668.7 165.9L1671.2 165.9L1673.7 165.9L1676.2 165.9L1678.7 165.9L1681.2 165.9L1683.7 165.9L1686.2 165.9L1688.8 165.9L1691.3 165.9L1693.8 165.9L1696.3 165.9L1698.8 165.9L1701.3 165.9L1703.8 165.9L1706.3 165.9L1708.8 165.9L1711.3 165.9L1713.8 165.9L1713.4 168.4L1713.0 170.8L1712.5 173.3L1712.1 175.8L1711.6 178.2L1711.2 180.7L1710.8 183.2L1710.3 185.6L1709.9 188.1L1709.4 190.6L1708.9 193.0L1708.5 195.5L1708.0 198.0L1707.6 200.4L1707.1 202.9L1706.6 205.3L1706.2 207.8L1705.7 210.3L1705.2 212.7L1704.7 215.2L1704.3 217.7L1703.8 220.1L1703.3 222.6L1702.8 225.0L1702.3 227.5L1701.8 229.9L1701.4 232.4L1700.9 234.9L1700.4 237.3L1699.9 239.8L1699.4 242.2L1698.9 244.7L1698.4 247.1L1697.8 249.6L1697.3 252.0L1696.8 254.5L1696.3 257.0L1695.8 259.4L1695.3 261.9L1694.8 264.3L1694.2 266.8L1693.7 269.2L1693.2 271.7L1692.7 274.1L1692.1 276.6L1691.6 279.0L1691.1 281.5L1690.5 283.9L1690.0 286.4L1689.5 288.8L1688.9 291.2L1688.4 293.7L1687.8 296.1L1687.3 298.6L1686.7 301.0L1686.2 303.5L1685.6 305.9L1685.1 308.4L1684.5 310.8L1683.9 313.2L1683.4 315.7L1682.8 318.1L1682.3 320.6L1681.7 323.0L1681.1 325.5L1680.6 327.9L1680.0 330.3L1679.4 332.8L1678.8 335.2L1678.3 337.7L1677.7 340.1L1677.1 342.5L1676.5 345.0L1675.9 347.4L1675.3 349.8L1674.8 352.3L1674.2 354.7L1673.6 357.1L1673.0 359.6L1672.4 362.0L1671.8 364.4L1671.2 366.9L1670.6 369.3L1670.0 371.7L1669.4 374.2L1668.8 376.6L1668.2 379.0L1667.6 381.5L1667.0 383.9L1666.4 386.3L1665.7 388.8L1665.1 391.2L1664.5 393.6L1663.9 396.1L1663.3 398.5L1662.7 400.9L1662.0 403.3L1661.4 405.8L1660.8 408.2L1660.2 410.6L1659.5 413.0L1658.9 415.5L1658.3 417.9L1657.7 420.3L1657.0 422.8L1656.4 425.2L1655.8 427.6L1655.1 430.0L1654.5 432.4L1653.8 434.9L1653.2 437.3L1652.6 439.7L1651.9 442.1L1651.3 444.6L1650.6 447.0L1650.0 449.4L1649.3 451.8L1648.7 454.2L1648.0 456.7L1647.4 459.1L1646.7 461.5L1646.1 463.9L1645.4 466.3L1644.8 468.8L1644.1 471.2L1643.4 473.6L1642.8 476.0L1642.1 478.4L1641.5 480.8L1640.8 483.3L1640.1 485.7L1639.5 488.1L1638.8 490.5L1638.1 492.9L1637.4 495.3L1636.8 497.7L1636.1 500.2L1635.4 502.6L1634.8 505.0L1634.1 507.4L1633.4 509.8L1632.7 512.2L1632.0 514.6L1631.4 517.1L1630.7 519.5L1630.0 521.9L1629.3 524.3L1628.6 526.7L1627.9 529.1L1627.3 531.5L1626.6 533.9L1625.9 536.3L1625.2 538.7L1624.5 541.2L1623.8 543.6L1623.1 546.0L1622.4 548.4L1621.7 550.8L1621.0 553.2L1620.3 555.6L1619.7 558.0L1619.0 560.4L1618.3 562.8L1617.6 565.2L1616.9 567.6L1616.2 570.0L1615.5 572.5L1614.8 574.9L1614.0 577.3L1613.3 579.7L1612.6 582.1L1611.9 584.5L1611.2 586.9L1610.5 589.3L1609.8 591.7L1609.1 594.1L1608.4 596.5L1607.7 598.9L1607.0 601.3L1606.3 603.7L1605.5 606.1L1604.8 608.5L1604.1 610.9L1603.4 613.3L1602.7 615.7L1602.0 618.1L1601.3 620.5L1600.5 622.9L1599.8 625.3L1599.1 627.7L1598.4 630.1L1597.7 632.5L1596.9 634.9L1596.2 637.3L1595.5 639.7L1594.8 642.1L1594.1 644.5L1593.3 646.9L1592.6 649.3L1591.9 651.7L1591.2 654.1L1590.4 656.5L1589.7 658.9L1589.0 661.3L1588.2 663.7L1587.5 666.1L1586.8 668.5L1586.1 670.9L1585.3 673.3L1584.6 675.7L1583.9 678.1L1583.1 680.5L1582.4 682.9L1581.7 685.3L1580.9 687.7L1580.2 690.1L1579.5 692.5L1578.7 694.9L1578.0 697.3L1577.3 699.7L1576.5 702.1L1575.8 704.5L1575.1 706.9L1574.3 709.2L1573.6 711.6L1572.9 714.0L1572.1 716.4L1571.4 718.8L1570.6 721.2L1569.9 723.6L1569.1 726.0L1568.4 728.4L1567.7 730.8L1566.9 733.2L1566.2 735.6L1565.4 738.0L1564.7 740.4L1563.9 742.7L1563.2 745.1L1562.4 747.5L1561.6 749.9L1560.9 752.3L1560.1 754.7L1559.4 757.1L1558.6 759.5L1557.8 761.9L1557.1 764.2L1556.3 766.6L1555.5 769.0L1554.8 771.4L1554.0 773.8L1553.2 776.2L1552.5 778.6L1551.7 780.9L1550.9 783.3L1550.1 785.7L1549.4 788.1L1548.6 790.5L1547.8 792.8L1547.0 795.2L1546.2 797.6L1545.4 800.0L1544.6 802.4L1543.9 804.7L1543.1 807.1L1542.3 809.5L1541.5 811.9L1540.7 814.2L1539.9 816.6L1539.1 819.0L1538.3 821.4L1537.5 823.7L1536.6 826.1L1535.8 828.5L1535.0 830.8L1534.2 833.2L1533.4 835.6L1532.6 838.0L1531.7 840.3L1530.9 842.7L1530.1 845.1L1529.3 847.4L1528.4 849.8L1527.6 852.1L1526.8 854.5L1525.9 856.9L1525.1 859.2L1524.2 861.6L1523.4 863.9L1522.5 866.3L1521.7 868.7L1520.8 871.0L1520.0 873.4L1519.1 875.7L1518.3 878.1L1517.4 880.4L1516.5 882.8L1515.7 885.1L1514.8 887.5L1513.9 889.8L1513.0 892.2L1512.1 894.5L1511.3 896.9L1510.4 899.2L1509.5 901.6L1508.6 903.9L1507.7 906.2L1506.8 908.6L1505.9 910.9L1505.0 913.3L1504.1 915.6L1503.2 917.9L1502.3 920.3L1501.4 922.6L1500.4 924.9L1499.5 927.3L1498.6 929.6L1497.7 931.9L1496.7 934.2L1495.8 936.6L1494.9 938.9L1493.9 941.2L1493.0 943.5L1492.0 945.9L1491.1 948.2L1490.1 950.5L1489.2 952.8L1488.2 955.1L1487.2 957.4L1486.3 959.7L1485.3 962.1L1484.3 964.4L1483.4 966.7L1482.4 969.0L1481.4 971.3L1480.4 973.6L1479.4 975.9L1478.4 978.2L1477.4 980.5L1476.4 982.8L1475.4 985.1L1474.4 987.4L1473.4 989.7L1472.4 992.0L1471.4 994.3L1470.4 996.5L1469.3 998.8L1468.3 1001.1L1467.3 1003.4L1466.2 1005.7L1465.2 1008.0L1464.2 1010.2L1463.1 1012.5L1462.1 1014.8L1461.0 1017.1L1460.0 1019.3L1458.9 1021.6L1457.8 1023.9L1456.8 1026.2L1455.7 1028.4L1454.6 1030.7L1453.5 1032.9L1452.4 1035.2L1451.4 1037.5L1450.3 1039.7L1449.2 1042.0L1448.1 1044.2L1447.0 1046.5L1445.9 1048.7L1444.8 1051.0L1443.6 1053.2L1442.5 1055.5L1441.4 1057.7L1440.3 1059.9L1439.2 1062.2L1438.0 1064.4L1436.9 1066.6L1435.7 1068.9L1434.6 1071.1L1433.5 1073.3L1432.3 1075.6L1431.2 1077.8L1430.0 1080.0L1428.8 1082.2L1427.7 1084.4L1426.5 1086.7L1425.3 1088.9L1424.1 1091.1L1423.0 1093.3L1421.8 1095.5L1420.6 1097.7L1419.4 1099.9L1418.2 1102.1L1417.0 1104.3L1415.8 1106.5L1414.6 1108.7L1413.3 1110.9L1412.1 1113.1L1410.9 1115.3L1409.7 1117.5L1408.5 1119.6L1407.2 1121.8L1406.0 1124.0L1404.7 1126.2L1403.5 1128.3L1402.2 1130.5L1401.0 1132.7L1399.7 1134.9L1398.5 1137.0L1397.2 1139.2L1395.9 1141.3L1394.7 1143.5L1393.4 1145.7L1392.1 1147.8L1390.8 1150.0L1389.5 1152.1L1388.2 1154.3L1386.9 1156.4L1385.6 1158.5L1384.3 1160.7L1383.0 1162.8L1381.7 1165.0L1380.4 1167.1L1379.1 1169.2L1377.7 1171.3L1376.4 1173.5L1375.1 1175.6L1373.8 1177.7L1372.4 1179.8L1371.1 1181.9L1369.7 1184.0L1368.3 1186.1L1367.0 1188.2L1365.6 1190.3L1364.2 1192.4L1362.7 1194.5L1361.3 1196.5L1359.7 1198.5L1358.1 1200.4L1356.5 1202.3L1354.8 1204.2L1353.1 1206.0L1351.5 1207.9L1349.8 1209.8L1348.2 1211.7L1346.5 1213.6L1344.8 1215.4L1343.1 1217.2L1341.4 1219.1L1339.7 1221.0L1338.0 1222.8L1336.2 1224.7L1334.4 1226.4L1332.5 1228.0L1330.6 1229.5L1328.5 1230.8L1326.3 1232.0L1324.1 1233.2L1321.8 1234.3L1319.6 1235.5L1317.3 1236.7L1315.1 1237.8L1312.8 1238.9L1310.5 1239.9L1308.3 1241.1L1306.2 1242.3L1304.1 1243.7L1302.1 1245.2L1300.1 1246.7L1298.1 1248.3L1296.2 1250.0L1294.3 1251.6L1292.5 1253.3L1290.7 1255.0L1288.9 1256.7L1287.1 1258.5L1285.3 1260.3L1283.5 1262.0L1281.7 1263.7L1279.9 1265.5L1278.1 1267.2L1276.2 1269.0L1274.4 1270.7L1272.6 1272.4L1270.8 1274.1L1269.0 1275.9L1267.1 1277.6L1265.3 1279.3L1263.5 1281.0L1261.6 1282.7L1259.8 1284.4L1258.0 1286.1L1256.1 1287.8L1254.3 1289.5L1252.5 1291.3L1250.7 1293.0L1248.9 1294.7L1247.0 1296.4L1245.2 1298.1L1243.3 1299.8L1241.4 1301.5L1239.6 1303.2L1237.7 1304.9L1235.8 1306.5L1233.7 1307.9L1231.6 1309.0L1229.3 1310.1L1227.0 1311.0L1224.6 1311.9L1222.2 1312.8L1219.9 1313.7L1217.5 1314.5L1215.2 1315.4L1212.8 1316.2L1210.4 1317.1L1208.1 1317.9L1205.7 1318.8L1203.4 1319.6L1201.0 1320.5L1198.7 1321.4L1196.3 1322.3L1194.0 1323.2L1191.7 1324.2L1189.4 1325.1L1187.1 1326.1L1184.8 1327.1L1182.4 1328.0L1180.1 1329.0L1177.8 1330.0L1175.5 1331.0L1173.2 1331.9L1170.8 1332.6L1168.4 1333.3L1165.9 1334.0L1163.5 1334.5L1161.0 1334.9L1158.5 1335.1L1156.0 1335.2L1153.5 1335.3L1151.0 1335.3" fill="none" stroke="#f00" stroke-width="10" stroke-linejoin="round" stroke-linecap="round"/>
<g clip-path="url(#cm)" fill="#fff" stroke="#000" stroke-width="2.9" stroke-linejoin="miter">
<circle cx="1621.8" cy="149.3" r="13.6"/>
<circle cx="1551.0" cy="266.4" r="13.6"/>
<circle cx="1480.2" cy="376.2" r="13.6"/>
<circle cx="1409.4" cy="480.3" r="13.6"/>
<circle cx="1338.6" cy="579.0" r="13.6"/>
<circle cx="1267.8" cy="671.5" r="13.6"/>
<circle cx="1197.0" cy="757.5" r="13.6"/>
<circle cx="1126.2" cy="838.0" r="13.6"/>
<circle cx="1055.4" cy="913.1" r="13.6"/>
<circle cx="984.6" cy="981.7" r="13.6"/>
<circle cx="913.8" cy="1044.2" r="13.6"/>
<circle cx="843.0" cy="1101.2" r="13.6"/>
<circle cx="772.2" cy="1151.3" r="13.6"/>
<circle cx="701.4" cy="1195.5" r="13.6"/>
<circle cx="630.6" cy="1234.8" r="13.6"/>
<circle cx="559.8" cy="1267.6" r="13.6"/>
<circle cx="489.0" cy="1295.0" r="13.6"/>
<circle cx="418.2" cy="1315.9" r="13.6"/>
<circle cx="347.4" cy="1329.8" r="13.6"/>
<circle cx="276.6" cy="1338.0" r="13.6"/>
</g>
<path clip-path="url(#cl)" d="M206.0 1342.0L208.4 1341.1L210.7 1340.3L213.1 1339.4L215.4 1338.6L217.8 1337.7L220.1 1336.9L222.5 1336.0L224.8 1335.1L227.2 1334.3L229.5 1333.4L231.9 1332.6L234.2 1331.7L236.6 1330.8L239.0 1330.0L241.3 1329.1L243.7 1328.3L246.0 1327.4L248.4 1326.5L250.7 1325.7L253.1 1324.8L255.4 1323.9L257.8 1323.1L260.1 1322.2L262.5 1321.3L264.8 1320.4L267.2 1319.6L269.5 1318.7L271.9 1317.8L274.2 1316.9L276.6 1316.1L278.9 1315.2L281.2 1314.3L283.6 1313.4L285.9 1312.6L288.3 1311.7L290.6 1310.8L293.0 1309.9L295.3 1309.0L297.7 1308.1L300.0 1307.2L302.3 1306.3L304.7 1305.5L307.0 1304.6L309.4 1303.7L311.7 1302.8L314.0 1301.9L316.4 1301.0L318.7 1300.1L321.1 1299.2L323.4 1298.3L325.7 1297.4L328.1 1296.5L330.4 1295.5L332.7 1294.6L335.1 1293.7L337.4 1292.8L339.7 1291.9L342.1 1291.0L344.4 1290.0L346.7 1289.1L349.1 1288.2L351.4 1287.3L353.7 1286.3L356.0 1285.4L358.4 1284.5L360.7 1283.6L363.0 1282.6L365.3 1281.7L367.7 1280.7L370.0 1279.8L372.3 1278.9L374.6 1277.9L376.9 1277.0L379.3 1276.0L381.6 1275.0L383.9 1274.1L386.2 1273.1L388.5 1272.2L390.8 1271.2L393.1 1270.2L395.5 1269.3L397.8 1268.3L400.1 1267.3L402.4 1266.4L404.7 1265.4L407.0 1264.4L409.3 1263.4L411.6 1262.4L413.9 1261.5L416.2 1260.5L418.5 1259.5L420.8 1258.5L423.1 1257.5L425.4 1256.5L427.7 1255.5L430.0 1254.5L432.3 1253.5L434.6 1252.4L436.9 1251.4L439.2 1250.4L441.5 1249.4L443.7 1248.4L446.0 1247.3L448.3 1246.3L450.6 1245.3L452.9 1244.3L455.2 1243.2L457.4 1242.2L459.7 1241.1L462.0 1240.1L464.3 1239.0L466.5 1238.0L468.8 1236.9L471.1 1235.9L473.4 1234.8L475.6 1233.8L477.9 1232.7L480.2 1231.6L482.4 1230.5L484.7 1229.5L487.0 1228.4L489.2 1227.3L491.5 1226.2L493.7 1225.1L496.0 1224.0L498.2 1222.9L500.5 1221.8L502.7 1220.7L505.0 1219.6L507.2 1218.5L509.5 1217.4L511.7 1216.3L514.0 1215.2L516.2 1214.1L518.4 1212.9L520.7 1211.8L522.9 1210.7L525.2 1209.5L527.4 1208.4L529.6 1207.3L531.8 1206.1L534.1 1205.0L536.3 1203.8L538.5 1202.7L540.7 1201.5L543.0 1200.3L545.2 1199.2L547.4 1198.0L549.6 1196.8L551.8 1195.7L554.0 1194.5L556.2 1193.3L558.4 1192.1L560.7 1190.9L562.9 1189.7L565.1 1188.5L567.3 1187.3L569.5 1186.1L571.7 1184.9L573.8 1183.7L576.0 1182.5L578.2 1181.3L580.4 1180.1L582.6 1178.8L584.8 1177.6L587.0 1176.4L589.1 1175.1L591.3 1173.9L593.5 1172.6L595.7 1171.4L597.8 1170.1L600.0 1168.9L602.2 1167.6L604.3 1166.4L606.5 1165.1L608.7 1163.8L610.8 1162.6L613.0 1161.3L615.1 1160.0L617.3 1158.7L619.4 1157.4L621.6 1156.1L623.7 1154.8L625.9 1153.5L628.0 1152.2L630.1 1150.9L632.3 1149.6L634.4 1148.3L636.5 1147.0L638.7 1145.7L640.8 1144.3L642.9 1143.0L645.0 1141.7L647.2 1140.4L649.3 1139.0L651.4 1137.7L653.5 1136.3L655.6 1135.0L657.7 1133.6L659.8 1132.3L661.9 1130.9L664.0 1129.5L666.1 1128.2L668.2 1126.8L670.3 1125.4L672.4 1124.0L674.5 1122.6L676.6 1121.3L678.7 1119.9L680.8 1118.5L682.8 1117.1L684.9 1115.7L687.0 1114.3L689.1 1112.9L691.1 1111.4L693.2 1110.0L695.3 1108.6L697.3 1107.2L699.4 1105.7L701.4 1104.3L703.5 1102.9L705.5 1101.4L707.6 1100.0L709.6 1098.6L711.7 1097.1L713.7 1095.7L715.8 1094.2L717.8 1092.7L719.8 1091.3L721.9 1089.8L723.9 1088.3L725.9 1086.9L727.9 1085.4L730.0 1083.9L732.0 1082.4L734.0 1080.9L736.0 1079.5L738.0 1078.0L740.0 1076.5L742.1 1075.0L744.1 1073.5L746.1 1072.0L748.1 1070.5L750.1 1069.0L752.1 1067.4L754.1 1065.9L756.1 1064.4L758.0 1062.9L760.0 1061.4L762.0 1059.8L764.0 1058.3L766.0 1056.8L768.0 1055.2L769.9 1053.7L771.9 1052.2L773.9 1050.6L775.9 1049.1L777.8 1047.5L779.8 1046.0L781.8 1044.4L783.7 1042.9L785.7 1041.3L787.7 1039.7L789.6 1038.2L791.6 1036.6L793.5 1035.0L795.5 1033.5L797.4 1031.9L799.4 1030.3L801.3 1028.7L803.3 1027.2L805.2 1025.6L807.1 1024.0L809.1 1022.4L811.0 1020.8L812.9 1019.2L814.9 1017.6L816.8 1016.0L818.7 1014.4L820.7 1012.8L822.6 1011.2L824.5 1009.6L826.4 1008.0L828.3 1006.4L830.3 1004.8L832.2 1003.1L834.1 1001.5L836.0 999.9L837.9 998.3L839.8 996.7L841.7 995.0L843.6 993.4L845.5 991.8L847.4 990.1L849.3 988.5L851.2 986.9L853.1 985.2L855.0 983.6L856.9 981.9L858.8 980.3L860.7 978.6L862.5 977.0L864.4 975.3L866.3 973.7L868.2 972.0L870.1 970.4L871.9 968.7L873.8 967.0L875.7 965.4L877.6 963.7L879.4 962.0L881.3 960.4L883.2 958.7L885.0 957.0L886.9 955.4L888.8 953.7L890.6 952.0L892.5 950.3L894.3 948.6L896.2 946.9L898.0 945.3L899.9 943.6L901.7 941.9L903.6 940.2L905.4 938.5L907.3 936.8L909.1 935.1L911.0 933.4L912.8 931.7L914.7 930.0L916.5 928.3L918.3 926.6L920.2 924.9L922.0 923.2L923.8 921.5L925.7 919.8L927.5 918.1L929.3 916.3L931.1 914.6L933.0 912.9L934.8 911.2L936.6 909.5L938.4 907.8L940.3 906.0L942.1 904.3L943.9 902.6L945.7 900.9L947.5 899.1L949.3 897.4L951.1 895.7L953.0 893.9L954.8 892.2L956.6 890.5L958.4 888.7L960.2 887.0L962.0 885.2L963.8 883.5L965.6 881.8L967.4 880.0L969.2 878.3L971.0 876.5L972.8 874.8L974.6 873.0L976.3 871.3L978.1 869.5L979.9 867.8L981.7 866.0L983.5 864.2L985.3 862.5L987.1 860.7L988.9 859.0L990.6 857.2L992.4 855.4L994.2 853.7L996.0 851.9L997.8 850.1L999.5 848.4L1001.3 846.6L1003.1 844.8L1004.8 843.1L1006.6 841.3L1008.4 839.5L1010.2 837.7L1011.9 836.0L1013.7 834.2L1015.5 832.4L1017.2 830.6L1019.0 828.9L1020.7 827.1L1022.5 825.3L1024.3 823.5L1026.0 821.7L1027.8 819.9L1029.5 818.1L1031.3 816.4L1033.0 814.6L1034.8 812.8L1036.5 811.0L1038.3 809.2L1040.0 807.4L1041.8 805.6L1043.5 803.8L1045.3 802.0L1047.0 800.2L1048.8 798.4L1050.5 796.6L1052.3 794.8L1054.0 793.0L1055.7 791.2L1057.5 789.4L1059.2 787.6L1060.9 785.8L1062.7 784.0L1064.4 782.2L1066.1 780.4L1067.9 778.5L1069.6 776.7L1071.3 774.9L1073.1 773.1L1074.8 771.3L1076.5 769.5L1078.2 767.7L1080.0 765.8L1081.7 764.0L1083.4 762.2L1085.1 760.4L1086.9 758.6L1088.6 756.7L1090.3 754.9L1092.0 753.1L1093.7 751.3L1095.5 749.4L1097.2 747.6L1098.9 745.8L1100.6 744.0L1102.3 742.1L1104.0 740.3L1105.7 738.5L1107.4 736.6L1109.2 734.8L1110.9 733.0L1112.6 731.1L1114.3 729.3L1116.0 727.5L1117.7 725.6L1119.4 723.8L1121.1 722.0L1122.8 720.1L1124.5 718.3L1126.2 716.4L1127.9 714.6L1129.6 712.8L1131.3 710.9L1133.0 709.1L1134.7 707.2L1136.4 705.4L1138.1 703.5L1139.8 701.7L1141.5 699.8L1143.1 698.0L1144.8 696.1L1146.5 694.3L1148.2 692.4L1149.9 690.6L1151.6 688.7L1153.3 686.9L1155.0 685.0L1156.6 683.2L1158.3 681.3L1160.0 679.5L1161.7 677.6L1163.4 675.8L1165.1 673.9L1166.7 672.0L1168.4 670.2L1170.1 668.3L1171.8 666.5L1173.5 664.6L1175.1 662.7L1176.8 660.9L1178.5 659.0L1180.2 657.1L1181.8 655.3L1183.5 653.4L1185.2 651.5L1186.9 649.7L1188.5 647.8L1190.2 645.9L1191.9 644.1L1193.5 642.2L1195.2 640.3L1196.9 638.5L1198.5 636.6L1200.2 634.7L1201.9 632.9L1203.5 631.0L1205.2 629.1L1206.9 627.2L1208.5 625.4L1210.2 623.5L1211.8 621.6L1213.5 619.7L1215.2 617.9L1216.8 616.0L1218.5 614.1L1220.1 612.2L1221.8 610.3L1223.5 608.5L1225.1 606.6L1226.8 604.7L1228.4 602.8L1230.1 600.9L1231.7 599.1L1233.4 597.2L1235.0 595.3L1236.7 593.4L1238.3 591.5L1240.0 589.6L1241.6 587.7L1243.3 585.9L1244.9 584.0L1246.6 582.1L1248.2 580.2L1249.9 578.3L1251.5 576.4L1253.2 574.5L1254.8 572.6L1256.5 570.8L1258.1 568.9L1259.7 567.0L1261.4 565.1L1263.0 563.2L1264.7 561.3L1266.3 559.4L1267.9 557.5L1269.6 555.6L1271.2 553.7L1272.9 551.8L1274.5 549.9L1276.1 548.0L1277.8 546.1L1279.4 544.2L1281.0 542.3L1282.6 540.4L1284.3 538.5L1285.9 536.6L1287.5 534.7L1289.2 532.8L1290.8 530.9L1292.4 529.0L1294.0 527.1L1295.7 525.1L1297.3 523.2L1298.9 521.3L1300.5 519.4L1302.1 517.5L1303.7 515.6L1305.4 513.7L1307.0 511.8L1308.6 509.8L1310.2 507.9L1311.8 506.0L1313.4 504.1L1315.0 502.1L1316.6 500.2L1318.2 498.3L1319.8 496.4L1321.4 494.4L1323.0 492.5L1324.6 490.6L1326.2 488.7L1327.8 486.7L1329.4 484.8L1331.0 482.9L1332.6 480.9L1334.2 479.0L1335.8 477.1L1337.4 475.1L1339.0 473.2L1340.5 471.2L1342.1 469.3L1343.7 467.3L1345.3 465.4L1346.9 463.5L1348.4 461.5L1350.0 459.6L1351.6 457.6L1353.2 455.7L1354.7 453.7L1356.3 451.8L1357.9 449.8L1359.4 447.8L1361.0 445.9L1362.6 443.9L1364.1 442.0L1365.7 440.0L1367.2 438.0L1368.8 436.1L1370.3 434.1L1371.9 432.1L1373.4 430.2L1375.0 428.2L1376.5 426.2L1378.1 424.3L1379.6 422.3L1381.2 420.3L1382.7 418.3L1384.2 416.3L1385.8 414.4L1387.3 412.4L1388.8 410.4L1390.4 408.4L1391.9 406.4L1393.4 404.4L1394.9 402.5L1396.5 400.5L1398.0 398.5L1399.5 396.5L1401.0 394.5L1402.5 392.5L1404.0 390.5L1405.6 388.5L1407.1 386.5L1408.6 384.5L1410.1 382.5L1411.6 380.5L1413.1 378.5L1414.6 376.5L1416.1 374.5L1417.6 372.4L1419.1 370.4L1420.6 368.4L1422.0 366.4L1423.5 364.4L1425.0 362.4L1426.5 360.3L1428.0 358.3L1429.4 356.3L1430.9 354.3L1432.4 352.2L1433.9 350.2L1435.3 348.2L1436.8 346.2L1438.3 344.1L1439.7 342.1L1441.2 340.1L1442.7 338.0L1444.1 336.0L1445.6 333.9L1447.0 331.9L1448.5 329.9L1449.9 327.8L1451.4 325.8L1452.8 323.7L1454.2 321.7L1455.7 319.6L1457.1 317.6L1458.6 315.5L1460.0 313.5L1461.4 311.4L1462.9 309.3L1464.3 307.3L1465.7 305.2L1467.1 303.2L1468.5 301.1L1470.0 299.0L1471.4 297.0L1472.8 294.9L1474.2 292.8L1475.6 290.7L1477.0 288.7L1478.4 286.6L1479.8 284.5L1481.2 282.4L1482.6 280.4L1484.0 278.3L1485.4 276.2L1486.8 274.1L1488.2 272.0L1489.6 269.9L1491.0 267.9L1492.4 265.8L1493.7 263.7L1495.1 261.6L1496.5 259.5L1497.9 257.4L1499.2 255.3L1500.6 253.2L1502.0 251.1L1503.3 249.0L1504.7 246.9L1506.1 244.8L1507.4 242.7L1508.8 240.6L1510.1 238.5L1511.4 236.3L1512.8 234.2L1514.1 232.1L1515.5 230.0L1516.8 227.9L1518.2 225.8L1519.6 223.7L1520.9 221.6L1522.3 219.5L1523.7 217.4L1525.1 215.3L1526.5 213.3L1527.9 211.2L1529.3 209.1L1530.7 207.0L1532.1 205.0L1533.6 202.9L1535.0 200.9L1536.4 198.8L1537.9 196.7L1539.3 194.7L1540.8 192.6L1542.2 190.6L1543.7 188.6L1545.2 186.6L1546.7 184.6L1548.3 182.6L1549.8 180.6L1551.4 178.7L1553.1 176.9L1554.9 175.1L1556.8 173.5L1558.8 172.0L1560.9 170.6L1563.1 169.3L1565.3 168.2L1567.6 167.2L1570.1 166.6L1572.5 166.2L1575.0 166.0L1577.5 165.9L1580.0 165.9L1582.5 165.9L1585.1 165.9L1587.6 165.9L1590.1 165.9L1592.6 165.9L1595.1 165.9L1597.6 165.9L1600.1 165.9L1602.6 165.9L1605.1 165.9L1607.6 165.9L1610.1 165.9L1612.6 165.9L1615.1 165.9L1617.6 165.9L1620.1 165.9L1622.6 165.9L1625.1 165.9L1627.7 165.9L1630.2 165.9L1632.7 165.9L1635.2 165.9L1637.7 165.9L1640.2 165.9L1642.7 165.9L1645.2 165.9L1647.7 165.9L1647.2 168.4L1646.7 170.8L1646.2 173.3L1645.7 175.7L1645.2 178.2L1644.7 180.6L1644.1 183.1L1643.6 185.5L1643.1 188.0L1642.6 190.4L1642.0 192.9L1641.5 195.3L1641.0 197.8L1640.5 200.2L1639.9 202.7L1639.4 205.1L1638.9 207.6L1638.3 210.0L1637.8 212.5L1637.2 214.9L1636.7 217.3L1636.1 219.8L1635.6 222.2L1635.0 224.7L1634.5 227.1L1633.9 229.6L1633.4 232.0L1632.8 234.5L1632.3 236.9L1631.7 239.3L1631.2 241.8L1630.6 244.2L1630.0 246.7L1629.5 249.1L1628.9 251.6L1628.3 254.0L1627.8 256.4L1627.2 258.9L1626.6 261.3L1626.0 263.8L1625.5 266.2L1624.9 268.6L1624.3 271.1L1623.7 273.5L1623.1 275.9L1622.5 278.4L1622.0 280.8L1621.4 283.2L1620.8 285.7L1620.2 288.1L1619.6 290.6L1619.0 293.0L1618.4 295.4L1617.8 297.9L1617.2 300.3L1616.6 302.7L1616.0 305.2L1615.4 307.6L1614.8 310.0L1614.2 312.4L1613.6 314.9L1613.0 317.3L1612.4 319.7L1611.8 322.2L1611.1 324.6L1610.5 327.0L1609.9 329.5L1609.3 331.9L1608.7 334.3L1608.0 336.7L1607.4 339.2L1606.8 341.6L1606.2 344.0L1605.5 346.4L1604.9 348.9L1604.3 351.3L1603.7 353.7L1603.0 356.1L1602.4 358.6L1601.7 361.0L1601.1 363.4L1600.5 365.8L1599.8 368.3L1599.2 370.7L1598.5 373.1L1597.9 375.5L1597.3 378.0L1596.6 380.4L1596.0 382.8L1595.3 385.2L1594.7 387.6L1594.0 390.1L1593.4 392.5L1592.7 394.9L1592.0 397.3L1591.4 399.7L1590.7 402.1L1590.1 404.6L1589.4 407.0L1588.7 409.4L1588.1 411.8L1587.4 414.2L1586.7 416.6L1586.1 419.1L1585.4 421.5L1584.7 423.9L1584.1 426.3L1583.4 428.7L1582.7 431.1L1582.0 433.5L1581.4 436.0L1580.7 438.4L1580.0 440.8L1579.3 443.2L1578.6 445.6L1577.9 448.0L1577.3 450.4L1576.6 452.8L1575.9 455.2L1575.2 457.6L1574.5 460.1L1573.8 462.5L1573.1 464.9L1572.4 467.3L1571.7 469.7L1571.0 472.1L1570.3 474.5L1569.6 476.9L1568.9 479.3L1568.2 481.7L1567.5 484.1L1566.8 486.5L1566.1 488.9L1565.4 491.3L1564.7 493.7L1564.0 496.1L1563.3 498.6L1562.6 501.0L1561.9 503.4L1561.2 505.8L1560.5 508.2L1559.7 510.6L1559.0 513.0L1558.3 515.4L1557.6 517.8L1556.9 520.2L1556.1 522.6L1555.4 525.0L1554.7 527.4L1554.0 529.8L1553.3 532.2L1552.5 534.6L1551.8 537.0L1551.1 539.4L1550.3 541.8L1549.6 544.2L1548.9 546.6L1548.2 548.9L1547.4 551.3L1546.7 553.7L1545.9 556.1L1545.2 558.5L1544.5 560.9L1543.7 563.3L1543.0 565.7L1542.3 568.1L1541.5 570.5L1540.8 572.9L1540.0 575.3L1539.3 577.7L1538.5 580.1L1537.8 582.5L1537.0 584.9L1536.3 587.2L1535.5 589.6L1534.8 592.0L1534.0 594.4L1533.3 596.8L1532.5 599.2L1531.8 601.6L1531.0 604.0L1530.3 606.4L1529.5 608.8L1528.7 611.1L1528.0 613.5L1527.2 615.9L1526.5 618.3L1525.7 620.7L1524.9 623.1L1524.2 625.5L1523.4 627.9L1522.6 630.2L1521.9 632.6L1521.1 635.0L1520.3 637.4L1519.6 639.8L1518.8 642.2L1518.0 644.5L1517.3 646.9L1516.5 649.3L1515.7 651.7L1514.9 654.1L1514.2 656.5L1513.4 658.8L1512.6 661.2L1511.8 663.6L1511.0 666.0L1510.3 668.4L1509.5 670.8L1508.7 673.1L1507.9 675.5L1507.1 677.9L1506.3 680.3L1505.6 682.6L1504.8 685.0L1504.0 687.4L1503.2 689.8L1502.4 692.2L1501.6 694.5L1500.8 696.9L1500.0 699.3L1499.2 701.7L1498.4 704.0L1497.6 706.4L1496.8 708.8L1496.0 711.2L1495.2 713.5L1494.4 715.9L1493.6 718.3L1492.8 720.7L1492.0 723.0L1491.2 725.4L1490.3 727.8L1489.5 730.1L1488.7 732.5L1487.9 734.9L1487.1 737.2L1486.2 739.6L1485.4 742.0L1484.6 744.3L1483.8 746.7L1482.9 749.1L1482.1 751.4L1481.3 753.8L1480.5 756.2L1479.6 758.5L1478.8 760.9L1477.9 763.2L1477.1 765.6L1476.3 768.0L1475.4 770.3L1474.6 772.7L1473.7 775.0L1472.9 777.4L1472.0 779.8L1471.2 782.1L1470.3 784.5L1469.4 786.8L1468.6 789.2L1467.7 791.5L1466.9 793.9L1466.0 796.2L1465.1 798.6L1464.3 800.9L1463.4 803.3L1462.5 805.6L1461.6 808.0L1460.7 810.3L1459.9 812.7L1459.0 815.0L1458.1 817.4L1457.2 819.7L1456.3 822.0L1455.4 824.4L1454.5 826.7L1453.6 829.1L1452.7 831.4L1451.8 833.7L1450.9 836.1L1450.0 838.4L1449.1 840.7L1448.2 843.1L1447.3 845.4L1446.4 847.7L1445.4 850.1L1444.5 852.4L1443.6 854.7L1442.7 857.1L1441.7 859.4L1440.8 861.7L1439.9 864.0L1438.9 866.4L1438.0 868.7L1437.0 871.0L1436.1 873.3L1435.2 875.6L1434.2 878.0L1433.2 880.3L1432.3 882.6L1431.3 884.9L1430.4 887.2L1429.4 889.5L1428.4 891.9L1427.5 894.2L1426.5 896.5L1425.5 898.8L1424.5 901.1L1423.6 903.4L1422.6 905.7L1421.6 908.0L1420.6 910.3L1419.6 912.6L1418.6 914.9L1417.6 917.2L1416.6 919.5L1415.6 921.8L1414.6 924.1L1413.6 926.4L1412.6 928.7L1411.6 931.0L1410.5 933.3L1409.5 935.5L1408.5 937.8L1407.5 940.1L1406.4 942.4L1405.4 944.7L1404.4 947.0L1403.3 949.2L1402.3 951.5L1401.2 953.8L1400.2 956.1L1399.1 958.3L1398.1 960.6L1397.0 962.9L1396.0 965.2L1394.9 967.4L1393.8 969.7L1392.7 972.0L1391.7 974.2L1390.6 976.5L1389.5 978.7L1388.4 981.0L1387.3 983.3L1386.3 985.5L1385.2 987.8L1384.1 990.0L1383.0 992.3L1381.9 994.5L1380.8 996.8L1379.6 999.0L1378.5 1001.3L1377.4 1003.5L1376.3 1005.8L1375.2 1008.0L1374.0 1010.2L1372.9 1012.5L1371.8 1014.7L1370.6 1016.9L1369.5 1019.2L1368.4 1021.4L1367.2 1023.6L1366.1 1025.9L1364.9 1028.1L1363.8 1030.3L1362.6 1032.5L1361.4 1034.7L1360.3 1037.0L1359.1 1039.2L1357.9 1041.4L1356.8 1043.6L1355.6 1045.8L1354.4 1048.0L1353.2 1050.2L1352.0 1052.4L1350.8 1054.6L1349.6 1056.8L1348.4 1059.0L1347.2 1061.2L1346.0 1063.4L1344.8 1065.6L1343.6 1067.8L1342.4 1070.0L1341.2 1072.2L1339.9 1074.4L1338.7 1076.6L1337.5 1078.8L1336.2 1080.9L1335.0 1083.1L1333.8 1085.3L1332.5 1087.5L1331.3 1089.6L1330.0 1091.8L1328.8 1094.0L1327.5 1096.2L1326.2 1098.3L1325.0 1100.5L1323.7 1102.6L1322.4 1104.8L1321.2 1107.0L1319.9 1109.1L1318.6 1111.3L1317.3 1113.4L1316.0 1115.6L1314.7 1117.7L1313.4 1119.9L1312.1 1122.0L1310.8 1124.1L1309.5 1126.3L1308.2 1128.4L1306.9 1130.6L1305.6 1132.7L1304.3 1134.8L1302.9 1136.9L1301.6 1139.1L1300.3 1141.2L1299.0 1143.3L1297.6 1145.4L1296.3 1147.5L1294.9 1149.7L1293.6 1151.8L1292.2 1153.9L1290.9 1156.0L1289.5 1158.1L1288.2 1160.2L1286.8 1162.3L1285.5 1164.5L1284.2 1166.6L1282.8 1168.7L1281.4 1170.8L1280.0 1172.8L1278.5 1174.9L1277.0 1176.9L1275.5 1178.8L1273.9 1180.8L1272.3 1182.7L1270.6 1184.6L1269.0 1186.5L1267.4 1188.4L1265.8 1190.3L1264.2 1192.3L1262.5 1194.2L1260.9 1196.0L1259.2 1197.9L1257.4 1199.7L1255.7 1201.4L1253.9 1203.2L1252.1 1205.0L1250.3 1206.7L1248.5 1208.5L1246.7 1210.2L1244.9 1212.0L1243.2 1213.8L1241.4 1215.5L1239.6 1217.3L1237.9 1219.1L1236.1 1220.9L1234.4 1222.7L1232.6 1224.5L1230.8 1226.2L1229.0 1227.9L1227.1 1229.6L1225.2 1231.3L1223.3 1232.9L1221.4 1234.5L1219.4 1236.0L1217.4 1237.4L1215.3 1238.8L1213.2 1240.3L1211.1 1241.7L1209.1 1243.1L1207.1 1244.6L1205.1 1246.2L1203.1 1247.7L1201.1 1249.2L1199.2 1250.8L1197.2 1252.3L1195.3 1253.9L1193.3 1255.5L1191.4 1257.1L1189.4 1258.6L1187.5 1260.2L1185.6 1261.8L1183.6 1263.4L1181.7 1265.0L1179.7 1266.6L1177.8 1268.2L1175.9 1269.8L1173.9 1271.4L1172.0 1273.0L1170.1 1274.6L1168.2 1276.2L1166.2 1277.8L1164.3 1279.4L1162.4 1281.0L1160.5 1282.6L1158.5 1284.2L1156.6 1285.8L1154.7 1287.4L1152.8 1289.0L1150.9 1290.7L1148.9 1292.2L1147.0 1293.8L1145.0 1295.4L1143.1 1297.0L1141.2 1298.6L1139.2 1300.2L1137.2 1301.7L1135.1 1303.1L1133.1 1304.5L1130.9 1305.8L1128.8 1307.1L1126.6 1308.2L1124.3 1309.3L1122.0 1310.2L1119.6 1311.0L1117.1 1311.6L1114.7 1312.1L1112.2 1312.7L1109.8 1313.4L1107.4 1314.0L1105.0 1314.7L1102.5 1315.3L1100.1 1315.8L1097.6 1316.3L1095.2 1316.8L1092.7 1317.3L1090.3 1317.8L1087.8 1318.4L1085.5 1319.1L1083.1 1319.9L1080.7 1320.8L1078.4 1321.7L1076.0 1322.6L1073.7 1323.4L1071.3 1324.3L1069.0 1325.2L1066.7 1326.2L1064.3 1327.1L1062.0 1328.0L1059.7 1329.0L1057.4 1330.0L1055.1 1331.0L1052.7 1331.9L1050.4 1332.7L1048.0 1333.4L1045.5 1334.1L1043.1 1334.7L1040.6 1335.2L1038.1 1335.4L1035.7 1335.4L1033.2 1335.5L1030.7 1335.5L1028.2 1335.6L1025.7 1335.6L1023.2 1335.6L1020.6 1335.6L1018.1 1335.6" fill="none" stroke="#0f0" stroke-width="10" stroke-linejoin="round" stroke-linecap="round"/>
<g clip-path="url(#cm)" fill="#fff" stroke="#000" stroke-width="2.9" stroke-linejoin="miter">
<path d="M1563.0 115.3L1579.3 143.5L1546.7 143.5Z"/>
<path d="M1495.2 221.9L1511.5 250.1L1478.9 250.1Z"/>
<path d="M1427.4 324.1L1443.7 352.4L1411.1 352.4Z"/>
<path d="M1359.5 421.4L1375.8 449.6L1343.2 449.6Z"/>
<path d="M1291.7 514.8L1308.0 543.0L1275.4 543.0Z"/>
<path d="M1223.9 603.8L1240.2 632.0L1207.6 632.0Z"/>
<path d="M1156.1 687.4L1172.4 715.6L1139.8 715.6Z"/>
<path d="M1088.3 766.7L1104.6 794.9L1072.0 794.9Z"/>
<path d="M1020.4 841.3L1036.7 869.5L1004.1 869.5Z"/>
<path d="M952.6 911.3L968.9 939.5L936.3 939.5Z"/>
<path d="M884.8 976.1L901.1 1004.3L868.5 1004.3Z"/>
<path d="M817.0 1036.5L833.3 1064.7L800.7 1064.7Z"/>
<path d="M749.2 1091.2L765.5 1119.4L732.9 1119.4Z"/>
<path d="M681.3 1140.5L697.6 1168.6L665.0 1168.6Z"/>
<path d="M613.5 1185.2L629.8 1213.3L597.2 1213.3Z"/>
<path d="M545.7 1223.3L562.0 1251.5L529.4 1251.5Z"/>
<path d="M477.9 1256.1L494.2 1284.3L461.6 1284.3Z"/>
<path d="M410.1 1285.9L426.4 1314.1L393.8 1314.1Z"/>
<path d="M342.2 1307.9L358.5 1336.1L325.9 1336.1Z"/>
<path d="M274.4 1323.9L290.7 1352.1L258.1 1352.1Z"/>
</g>
<path clip-path="url(#cl)" d="M206.0 1342.0L208.4 1341.2L210.7 1340.4L213.1 1339.6L215.5 1338.8L217.8 1337.9L220.2 1337.1L222.6 1336.3L224.9 1335.5L227.3 1334.7L229.7 1333.9L232.0 1333.1L234.4 1332.2L236.8 1331.4L239.1 1330.6L241.5 1329.8L243.9 1329.0L246.2 1328.2L248.6 1327.3L251.0 1326.5L253.3 1325.7L255.7 1324.9L258.1 1324.0L260.4 1323.2L262.8 1322.4L265.2 1321.6L267.5 1320.7L269.9 1319.9L272.2 1319.1L274.6 1318.2L277.0 1317.4L279.3 1316.6L281.7 1315.7L284.0 1314.9L286.4 1314.0L288.8 1313.2L291.1 1312.3L293.5 1311.5L295.8 1310.6L298.2 1309.8L300.5 1308.9L302.9 1308.1L305.2 1307.2L307.6 1306.4L309.9 1305.5L312.3 1304.7L314.6 1303.8L317.0 1302.9L319.3 1302.1L321.7 1301.2L324.0 1300.3L326.4 1299.5L328.7 1298.6L331.1 1297.7L333.4 1296.8L335.8 1295.9L338.1 1295.1L340.4 1294.2L342.8 1293.3L345.1 1292.4L347.5 1291.5L349.8 1290.6L352.1 1289.7L354.5 1288.8L356.8 1287.9L359.1 1287.0L361.5 1286.1L363.8 1285.2L366.1 1284.3L368.5 1283.4L370.8 1282.5L373.1 1281.5L375.5 1280.6L377.8 1279.7L380.1 1278.8L382.4 1277.8L384.8 1276.9L387.1 1276.0L389.4 1275.0L391.7 1274.1L394.0 1273.1L396.4 1272.2L398.7 1271.2L401.0 1270.3L403.3 1269.3L405.6 1268.4L407.9 1267.4L410.2 1266.4L412.5 1265.5L414.9 1264.5L417.2 1263.5L419.5 1262.5L421.8 1261.6L424.1 1260.6L426.4 1259.6L428.7 1258.6L431.0 1257.6L433.3 1256.6L435.6 1255.6L437.9 1254.6L440.1 1253.6L442.4 1252.6L444.7 1251.6L447.0 1250.6L449.3 1249.5L451.6 1248.5L453.9 1247.5L456.1 1246.5L458.4 1245.4L460.7 1244.4L463.0 1243.3L465.3 1242.3L467.5 1241.3L469.8 1240.2L472.1 1239.1L474.3 1238.1L476.6 1237.0L478.9 1236.0L481.1 1234.9L483.4 1233.8L485.7 1232.7L487.9 1231.7L490.2 1230.6L492.4 1229.5L494.7 1228.4L496.9 1227.3L499.2 1226.2L501.4 1225.1L503.7 1224.0L505.9 1222.9L508.2 1221.7L510.4 1220.6L512.6 1219.5L514.9 1218.4L517.1 1217.2L519.3 1216.1L521.6 1215.0L523.8 1213.8L526.0 1212.7L528.2 1211.5L530.5 1210.4L532.7 1209.2L534.9 1208.1L537.1 1206.9L539.3 1205.7L541.5 1204.5L543.7 1203.4L546.0 1202.2L548.2 1201.0L550.4 1199.8L552.6 1198.6L554.8 1197.4L557.0 1196.2L559.1 1195.0L561.3 1193.8L563.5 1192.6L565.7 1191.4L567.9 1190.1L570.1 1188.9L572.3 1187.7L574.4 1186.4L576.6 1185.2L578.8 1184.0L581.0 1182.7L583.1 1181.5L585.3 1180.2L587.4 1178.9L589.6 1177.7L591.8 1176.4L593.9 1175.1L596.1 1173.8L598.2 1172.6L600.4 1171.3L602.5 1170.0L604.7 1168.7L606.8 1167.4L608.9 1166.1L611.1 1164.8L613.2 1163.5L615.3 1162.2L617.5 1160.8L619.6 1159.5L621.7 1158.2L623.8 1156.9L626.0 1155.5L628.1 1154.2L630.2 1152.8L632.3 1151.5L634.4 1150.1L636.5 1148.8L638.6 1147.4L640.7 1146.1L642.8 1144.7L644.9 1143.3L647.0 1141.9L649.1 1140.6L651.2 1139.2L653.2 1137.8L655.3 1136.4L657.4 1135.0L659.5 1133.6L661.5 1132.2L663.6 1130.8L665.7 1129.4L667.7 1127.9L669.8 1126.5L671.8 1125.1L673.9 1123.7L676.0 1122.2L678.0 1120.8L680.0 1119.3L682.1 1117.9L684.1 1116.4L686.2 1115.0L688.2 1113.5L690.2 1112.1L692.3 1110.6L694.3 1109.1L696.3 1107.6L698.3 1106.2L700.3 1104.7L702.4 1103.2L704.4 1101.7L706.4 1100.2L708.4 1098.7L710.4 1097.2L712.4 1095.7L714.4 1094.2L716.4 1092.7L718.4 1091.2L720.4 1089.6L722.3 1088.1L724.3 1086.6L726.3 1085.1L728.3 1083.5L730.3 1082.0L732.2 1080.4L734.2 1078.9L736.2 1077.3L738.1 1075.8L740.1 1074.2L742.1 1072.7L744.0 1071.1L746.0 1069.6L747.9 1068.0L749.9 1066.4L751.8 1064.8L753.8 1063.3L755.7 1061.7L757.6 1060.1L759.6 1058.5L761.5 1056.9L763.4 1055.3L765.4 1053.7L767.3 1052.1L769.2 1050.5L771.2 1048.9L773.1 1047.3L775.0 1045.7L776.9 1044.1L778.8 1042.5L780.7 1040.9L782.6 1039.3L784.5 1037.6L786.4 1036.0L788.3 1034.4L790.2 1032.7L792.1 1031.1L794.0 1029.5L795.9 1027.8L797.8 1026.2L799.7 1024.5L801.6 1022.9L803.5 1021.3L805.4 1019.6L807.2 1017.9L809.1 1016.3L811.0 1014.6L812.9 1013.0L814.7 1011.3L816.6 1009.6L818.5 1008.0L820.3 1006.3L822.2 1004.6L824.0 1002.9L825.9 1001.3L827.8 999.6L829.6 997.9L831.5 996.2L833.3 994.5L835.2 992.8L837.0 991.1L838.9 989.5L840.7 987.8L842.5 986.1L844.4 984.4L846.2 982.7L848.0 980.9L849.9 979.2L851.7 977.5L853.5 975.8L855.4 974.1L857.2 972.4L859.0 970.7L860.8 969.0L862.6 967.2L864.5 965.5L866.3 963.8L868.1 962.1L869.9 960.3L871.7 958.6L873.5 956.9L875.3 955.1L877.1 953.4L878.9 951.7L880.7 949.9L882.5 948.2L884.3 946.4L886.1 944.7L887.9 942.9L889.7 941.2L891.5 939.4L893.3 937.7L895.0 935.9L896.8 934.2L898.6 932.4L900.4 930.7L902.2 928.9L904.0 927.1L905.7 925.4L907.5 923.6L909.3 921.8L911.0 920.1L912.8 918.3L914.6 916.5L916.3 914.7L918.1 913.0L919.9 911.2L921.6 909.4L923.4 907.6L925.2 905.8L926.9 904.1L928.7 902.3L930.4 900.5L932.2 898.7L933.9 896.9L935.7 895.1L937.4 893.3L939.2 891.5L940.9 889.7L942.6 887.9L944.4 886.1L946.1 884.3L947.9 882.5L949.6 880.7L951.3 878.9L953.1 877.1L954.8 875.3L956.5 873.5L958.3 871.7L960.0 869.9L961.7 868.1L963.4 866.3L965.2 864.4L966.9 862.6L968.6 860.8L970.3 859.0L972.1 857.2L973.8 855.3L975.5 853.5L977.2 851.7L978.9 849.9L980.6 848.0L982.3 846.2L984.0 844.4L985.8 842.6L987.5 840.7L989.2 838.9L990.9 837.1L992.6 835.2L994.3 833.4L996.0 831.5L997.7 829.7L999.4 827.9L1001.1 826.0L1002.8 824.2L1004.4 822.3L1006.1 820.5L1007.8 818.6L1009.5 816.8L1011.2 814.9L1012.9 813.1L1014.6 811.2L1016.3 809.4L1017.9 807.5L1019.6 805.7L1021.3 803.8L1023.0 802.0L1024.7 800.1L1026.3 798.2L1028.0 796.4L1029.7 794.5L1031.3 792.7L1033.0 790.8L1034.7 788.9L1036.3 787.1L1038.0 785.2L1039.7 783.3L1041.3 781.4L1043.0 779.6L1044.7 777.7L1046.3 775.8L1048.0 773.9L1049.6 772.1L1051.3 770.2L1053.0 768.3L1054.6 766.4L1056.3 764.6L1057.9 762.7L1059.6 760.8L1061.2 758.9L1062.9 757.0L1064.5 755.1L1066.2 753.3L1067.8 751.4L1069.4 749.5L1071.1 747.6L1072.7 745.7L1074.4 743.8L1076.0 741.9L1077.7 740.0L1079.3 738.1L1081.0 736.3L1082.6 734.4L1084.2 732.5L1085.9 730.6L1087.5 728.7L1089.2 726.8L1090.8 724.9L1092.4 723.0L1094.1 721.1L1095.7 719.2L1097.3 717.3L1099.0 715.4L1100.6 713.5L1102.2 711.6L1103.9 709.8L1105.5 707.9L1107.2 706.0L1108.8 704.1L1110.4 702.2L1112.0 700.3L1113.7 698.4L1115.3 696.5L1116.9 694.6L1118.6 692.7L1120.2 690.8L1121.8 688.9L1123.4 687.0L1125.1 685.0L1126.7 683.1L1128.3 681.2L1129.9 679.3L1131.6 677.4L1133.2 675.5L1134.8 673.6L1136.4 671.7L1138.1 669.8L1139.7 667.9L1141.3 666.0L1142.9 664.1L1144.5 662.2L1146.1 660.2L1147.8 658.3L1149.4 656.4L1151.0 654.5L1152.6 652.6L1154.2 650.7L1155.8 648.7L1157.4 646.8L1159.0 644.9L1160.6 643.0L1162.2 641.1L1163.9 639.2L1165.5 637.2L1167.1 635.3L1168.7 633.4L1170.3 631.5L1171.9 629.5L1173.5 627.6L1175.1 625.7L1176.7 623.8L1178.3 621.8L1179.9 619.9L1181.5 618.0L1183.0 616.0L1184.6 614.1L1186.2 612.2L1187.8 610.2L1189.4 608.3L1191.0 606.4L1192.6 604.4L1194.2 602.5L1195.8 600.6L1197.3 598.6L1198.9 596.7L1200.5 594.7L1202.1 592.8L1203.7 590.9L1205.3 588.9L1206.8 587.0L1208.4 585.0L1210.0 583.1L1211.6 581.1L1213.1 579.2L1214.7 577.2L1216.3 575.3L1217.8 573.3L1219.4 571.4L1221.0 569.4L1222.5 567.5L1224.1 565.5L1225.7 563.6L1227.2 561.6L1228.8 559.7L1230.4 557.7L1231.9 555.7L1233.5 553.8L1235.0 551.8L1236.6 549.9L1238.1 547.9L1239.7 545.9L1241.2 544.0L1242.8 542.0L1244.3 540.0L1245.9 538.1L1247.4 536.1L1249.0 534.1L1250.5 532.2L1252.1 530.2L1253.6 528.2L1255.1 526.2L1256.7 524.3L1258.2 522.3L1259.8 520.3L1261.3 518.3L1262.8 516.4L1264.4 514.4L1265.9 512.4L1267.4 510.4L1268.9 508.4L1270.5 506.5L1272.0 504.5L1273.5 502.5L1275.0 500.5L1276.6 498.5L1278.1 496.5L1279.6 494.5L1281.1 492.5L1282.6 490.5L1284.2 488.5L1285.7 486.6L1287.2 484.6L1288.7 482.6L1290.2 480.6L1291.7 478.6L1293.2 476.6L1294.7 474.6L1296.2 472.6L1297.7 470.6L1299.2 468.6L1300.7 466.5L1302.2 464.5L1303.7 462.5L1305.2 460.5L1306.7 458.5L1308.2 456.5L1309.7 454.5L1311.2 452.5L1312.7 450.5L1314.1 448.5L1315.6 446.4L1317.1 444.4L1318.6 442.4L1320.1 440.4L1321.6 438.4L1323.0 436.3L1324.5 434.3L1326.0 432.3L1327.5 430.3L1328.9 428.2L1330.4 426.2L1331.9 424.2L1333.3 422.2L1334.8 420.1L1336.3 418.1L1337.7 416.1L1339.2 414.0L1340.6 412.0L1342.1 410.0L1343.6 407.9L1345.0 405.9L1346.5 403.9L1347.9 401.8L1349.4 399.8L1350.8 397.7L1352.3 395.7L1353.7 393.6L1355.2 391.6L1356.6 389.6L1358.0 387.5L1359.5 385.5L1360.9 383.4L1362.4 381.4L1363.8 379.3L1365.2 377.3L1366.7 375.2L1368.1 373.2L1369.5 371.1L1370.9 369.0L1372.4 367.0L1373.8 364.9L1375.2 362.9L1376.6 360.8L1378.1 358.7L1379.5 356.7L1380.9 354.6L1382.3 352.6L1383.7 350.5L1385.1 348.4L1386.6 346.3L1388.0 344.3L1389.4 342.2L1390.8 340.1L1392.2 338.1L1393.6 336.0L1395.0 333.9L1396.4 331.8L1397.8 329.8L1399.2 327.7L1400.6 325.6L1402.0 323.5L1403.4 321.4L1404.8 319.4L1406.1 317.3L1407.5 315.2L1408.9 313.1L1410.3 311.0L1411.7 308.9L1413.1 306.9L1414.4 304.8L1415.8 302.7L1417.2 300.6L1418.6 298.5L1420.0 296.4L1421.3 294.3L1422.7 292.2L1424.1 290.1L1425.4 288.0L1426.8 285.9L1428.2 283.8L1429.5 281.7L1430.9 279.6L1432.2 277.5L1433.6 275.4L1435.0 273.3L1436.3 271.2L1437.7 269.1L1439.0 267.0L1440.4 264.9L1441.7 262.8L1443.1 260.7L1444.4 258.6L1445.8 256.4L1447.1 254.3L1448.4 252.2L1449.8 250.1L1451.1 248.0L1452.4 245.9L1453.8 243.7L1455.1 241.6L1456.4 239.5L1457.7 237.4L1459.1 235.2L1460.4 233.1L1461.7 231.0L1463.0 228.8L1464.4 226.7L1465.7 224.6L1467.1 222.6L1468.5 220.5L1469.9 218.4L1471.3 216.3L1472.7 214.3L1474.1 212.2L1475.6 210.1L1477.0 208.1L1478.5 206.0L1479.9 204.0L1481.4 202.0L1482.9 200.0L1484.4 198.0L1485.9 196.0L1487.5 194.0L1489.0 192.0L1490.6 190.1L1492.1 188.1L1493.8 186.2L1495.4 184.3L1497.0 182.5L1498.7 180.6L1500.5 178.8L1502.3 177.1L1504.1 175.4L1506.0 173.7L1508.0 172.1L1510.0 170.6L1512.1 169.3L1514.4 168.2L1516.7 167.5L1519.2 167.0L1521.7 166.8L1524.2 166.7L1526.7 166.6L1529.2 166.6L1531.7 166.6L1534.2 166.6L1536.7 166.6L1539.2 166.6L1541.7 166.6L1544.2 166.6L1546.7 166.6L1549.2 166.6L1551.7 166.6L1554.2 166.6L1556.7 166.6L1559.2 166.6L1561.8 166.6L1564.3 166.6L1566.8 166.6L1569.3 166.6L1571.8 166.6L1574.3 166.6L1576.8 166.6L1579.3 166.6L1581.8 166.6L1584.3 166.6L1586.8 166.6L1589.3 166.6L1591.8 166.6L1594.3 166.6L1596.8 166.6L1596.4 169.1L1596.1 171.6L1595.7 174.0L1595.3 176.5L1594.9 179.0L1594.5 181.5L1594.1 184.0L1593.7 186.4L1593.3 188.9L1592.9 191.4L1592.5 193.9L1592.1 196.3L1591.7 198.8L1591.3 201.3L1590.9 203.7L1590.4 206.2L1590.0 208.7L1589.6 211.2L1589.2 213.6L1588.7 216.1L1588.3 218.6L1587.9 221.0L1587.4 223.5L1587.0 226.0L1586.5 228.5L1586.1 230.9L1585.6 233.4L1585.2 235.9L1584.7 238.3L1584.2 240.8L1583.8 243.2L1583.3 245.7L1582.8 248.2L1582.4 250.6L1581.9 253.1L1581.4 255.6L1580.9 258.0L1580.4 260.5L1580.0 262.9L1579.5 265.4L1579.0 267.9L1578.5 270.3L1578.0 272.8L1577.5 275.2L1577.0 277.7L1576.5 280.2L1576.0 282.6L1575.5 285.1L1574.9 287.5L1574.4 290.0L1573.9 292.4L1573.4 294.9L1572.9 297.3L1572.3 299.8L1571.8 302.2L1571.3 304.7L1570.8 307.1L1570.2 309.6L1569.7 312.0L1569.1 314.5L1568.6 316.9L1568.1 319.4L1567.5 321.8L1567.0 324.3L1566.4 326.7L1565.9 329.2L1565.3 331.6L1564.8 334.1L1564.2 336.5L1563.6 339.0L1563.1 341.4L1562.5 343.9L1561.9 346.3L1561.4 348.7L1560.8 351.2L1560.2 353.6L1559.6 356.1L1559.1 358.5L1558.5 360.9L1557.9 363.4L1557.3 365.8L1556.7 368.3L1556.2 370.7L1555.6 373.1L1555.0 375.6L1554.4 378.0L1553.8 380.5L1553.2 382.9L1552.6 385.3L1552.0 387.8L1551.4 390.2L1550.8 392.6L1550.2 395.1L1549.6 397.5L1549.0 399.9L1548.3 402.4L1547.7 404.8L1547.1 407.2L1546.5 409.7L1545.9 412.1L1545.3 414.5L1544.6 416.9L1544.0 419.4L1543.4 421.8L1542.8 424.2L1542.1 426.7L1541.5 429.1L1540.9 431.5L1540.2 433.9L1539.6 436.4L1539.0 438.8L1538.3 441.2L1537.7 443.6L1537.0 446.1L1536.4 448.5L1535.8 450.9L1535.1 453.3L1534.5 455.8L1533.8 458.2L1533.2 460.6L1532.5 463.0L1531.9 465.5L1531.2 467.9L1530.6 470.3L1529.9 472.7L1529.2 475.1L1528.6 477.6L1527.9 480.0L1527.3 482.4L1526.6 484.8L1525.9 487.2L1525.3 489.7L1524.6 492.1L1523.9 494.5L1523.3 496.9L1522.6 499.3L1521.9 501.7L1521.2 504.2L1520.6 506.6L1519.9 509.0L1519.2 511.4L1518.5 513.8L1517.9 516.2L1517.2 518.6L1516.5 521.1L1515.8 523.5L1515.1 525.9L1514.5 528.3L1513.8 530.7L1513.1 533.1L1512.4 535.5L1511.7 538.0L1511.0 540.4L1510.3 542.8L1509.6 545.2L1509.0 547.6L1508.3 550.0L1507.6 552.4L1506.9 554.8L1506.2 557.2L1505.5 559.7L1504.8 562.1L1504.1 564.5L1503.4 566.9L1502.7 569.3L1502.0 571.7L1501.3 574.1L1500.6 576.5L1499.9 578.9L1499.2 581.3L1498.5 583.7L1497.8 586.1L1497.1 588.6L1496.4 591.0L1495.7 593.4L1495.0 595.8L1494.2 598.2L1493.5 600.6L1492.8 603.0L1492.1 605.4L1491.4 607.8L1490.7 610.2L1490.0 612.6L1489.3 615.0L1488.6 617.4L1487.9 619.8L1487.1 622.2L1486.4 624.6L1485.7 627.0L1485.0 629.4L1484.3 631.8L1483.6 634.3L1482.8 636.7L1482.1 639.1L1481.4 641.5L1480.7 643.9L1480.0 646.3L1479.3 648.7L1478.5 651.1L1477.8 653.5L1477.1 655.9L1476.4 658.3L1475.7 660.7L1474.9 663.1L1474.2 665.5L1473.5 667.9L1472.8 670.3L1472.1 672.7L1471.3 675.1L1470.6 677.5L1469.9 679.9L1469.2 682.3L1468.4 684.7L1467.7 687.1L1467.0 689.5L1466.3 691.9L1465.5 694.3L1464.8 696.7L1464.1 699.1L1463.3 701.5L1462.6 703.9L1461.9 706.3L1461.2 708.7L1460.4 711.1L1459.7 713.5L1459.0 715.9L1458.2 718.3L1457.5 720.7L1456.7 723.1L1456.0 725.5L1455.3 727.9L1454.5 730.3L1453.8 732.7L1453.0 735.1L1452.3 737.5L1451.6 739.9L1450.8 742.3L1450.1 744.7L1449.3 747.0L1448.6 749.4L1447.8 751.8L1447.1 754.2L1446.3 756.6L1445.5 759.0L1444.8 761.4L1444.0 763.8L1443.3 766.2L1442.5 768.6L1441.8 771.0L1441.0 773.4L1440.2 775.7L1439.5 778.1L1438.7 780.5L1437.9 782.9L1437.2 785.3L1436.4 787.7L1435.6 790.1L1434.8 792.5L1434.1 794.8L1433.3 797.2L1432.5 799.6L1431.7 802.0L1430.9 804.4L1430.2 806.8L1429.4 809.1L1428.6 811.5L1427.8 813.9L1427.0 816.3L1426.2 818.7L1425.4 821.0L1424.6 823.4L1423.8 825.8L1423.0 828.2L1422.2 830.6L1421.4 832.9L1420.6 835.3L1419.8 837.7L1419.0 840.1L1418.2 842.4L1417.4 844.8L1416.6 847.2L1415.8 849.5L1414.9 851.9L1414.1 854.3L1413.3 856.7L1412.5 859.0L1411.6 861.4L1410.8 863.8L1410.0 866.1L1409.1 868.5L1408.3 870.9L1407.5 873.2L1406.6 875.6L1405.8 877.9L1404.9 880.3L1404.1 882.7L1403.3 885.0L1402.4 887.4L1401.6 889.8L1400.7 892.1L1399.8 894.5L1399.0 896.8L1398.1 899.2L1397.3 901.5L1396.4 903.9L1395.5 906.2L1394.6 908.6L1393.8 910.9L1392.9 913.3L1392.0 915.6L1391.1 918.0L1390.3 920.3L1389.4 922.7L1388.5 925.0L1387.6 927.4L1386.7 929.7L1385.8 932.1L1384.9 934.4L1384.0 936.7L1383.1 939.1L1382.2 941.4L1381.3 943.8L1380.4 946.1L1379.4 948.4L1378.5 950.8L1377.6 953.1L1376.7 955.4L1375.8 957.8L1374.8 960.1L1373.9 962.4L1373.0 964.7L1372.0 967.1L1371.1 969.4L1370.1 971.7L1369.2 974.0L1368.2 976.4L1367.3 978.7L1366.3 981.0L1365.4 983.3L1364.4 985.6L1363.4 987.9L1362.5 990.3L1361.5 992.6L1360.5 994.9L1359.5 997.2L1358.5 999.5L1357.6 1001.8L1356.6 1004.1L1355.6 1006.4L1354.6 1008.7L1353.6 1011.0L1352.5 1013.3L1351.5 1015.6L1350.5 1017.9L1349.5 1020.2L1348.5 1022.5L1347.4 1024.7L1346.4 1027.0L1345.3 1029.3L1344.3 1031.6L1343.2 1033.9L1342.2 1036.1L1341.1 1038.4L1340.1 1040.7L1339.0 1043.0L1337.9 1045.2L1336.8 1047.5L1335.8 1049.7L1334.7 1052.0L1333.6 1054.3L1332.5 1056.5L1331.4 1058.8L1330.3 1061.0L1329.1 1063.3L1328.0 1065.5L1326.9 1067.7L1325.8 1070.0L1324.6 1072.2L1323.5 1074.5L1322.3 1076.7L1321.2 1078.9L1320.0 1081.1L1318.9 1083.4L1317.7 1085.6L1316.5 1087.8L1315.4 1090.0L1314.2 1092.2L1313.0 1094.4L1311.8 1096.6L1310.6 1098.8L1309.4 1101.0L1308.2 1103.2L1306.9 1105.4L1305.7 1107.6L1304.5 1109.8L1303.3 1112.0L1302.0 1114.2L1300.8 1116.3L1299.5 1118.5L1298.3 1120.7L1297.0 1122.9L1295.7 1125.0L1294.5 1127.2L1293.2 1129.3L1291.9 1131.5L1290.6 1133.6L1289.3 1135.8L1288.0 1137.9L1286.7 1140.1L1285.4 1142.2L1284.1 1144.3L1282.7 1146.5L1281.4 1148.6L1280.1 1150.7L1278.7 1152.8L1277.4 1154.9L1276.0 1157.1L1274.7 1159.2L1273.3 1161.3L1271.9 1163.4L1270.6 1165.5L1269.2 1167.6L1267.8 1169.7L1266.4 1171.7L1264.9 1173.8L1263.5 1175.8L1262.0 1177.9L1260.6 1179.9L1259.1 1181.9L1257.6 1183.9L1256.0 1185.9L1254.5 1187.9L1253.0 1189.9L1251.4 1191.8L1249.8 1193.8L1248.1 1195.7L1246.5 1197.6L1244.8 1199.4L1243.1 1201.2L1241.4 1203.1L1239.6 1204.9L1237.9 1206.7L1236.1 1208.4L1234.3 1210.2L1232.6 1212.0L1230.8 1213.8L1229.0 1215.5L1227.2 1217.3L1225.4 1219.0L1223.6 1220.8L1221.8 1222.5L1219.9 1224.2L1218.1 1225.9L1216.2 1227.6L1214.3 1229.2L1212.3 1230.7L1210.4 1232.3L1208.3 1233.8L1206.3 1235.3L1204.3 1236.8L1202.4 1238.3L1200.4 1239.9L1198.4 1241.4L1196.4 1242.9L1194.4 1244.4L1192.4 1246.0L1190.4 1247.5L1188.5 1249.1L1186.5 1250.6L1184.6 1252.2L1182.6 1253.8L1180.7 1255.4L1178.7 1257.0L1176.8 1258.6L1174.8 1260.1L1172.8 1261.7L1170.9 1263.2L1168.9 1264.8L1166.9 1266.3L1164.9 1267.7L1162.8 1269.2L1160.6 1270.5L1158.5 1271.9L1156.5 1273.4L1154.7 1275.0L1152.8 1276.8L1151.0 1278.4L1149.0 1280.0L1147.1 1281.6L1145.1 1283.1L1143.1 1284.7L1141.2 1286.2L1139.2 1287.9L1137.4 1289.5L1135.5 1291.2L1133.7 1293.0L1131.9 1294.7L1130.1 1296.5L1128.2 1298.1L1126.3 1299.7L1124.3 1301.3L1122.3 1302.7L1120.3 1304.3L1118.3 1305.9L1116.3 1307.5L1114.3 1309.1L1112.2 1310.4L1110.0 1311.5L1107.8 1312.4L1105.4 1313.0L1102.9 1313.5L1100.4 1314.1L1097.9 1314.6L1095.5 1315.3L1093.1 1316.0L1090.7 1316.8L1088.3 1317.5L1085.9 1318.4L1083.6 1319.2L1081.3 1320.2L1079.0 1321.2L1076.7 1322.2L1074.4 1323.3L1072.1 1324.3L1069.8 1325.3L1067.5 1326.4L1065.3 1327.4L1063.0 1328.4L1060.7 1329.4L1058.3 1330.4L1056.0 1331.4L1053.7 1332.4L1051.3 1333.3L1048.9 1334.0L1046.5 1334.3L1044.0 1334.4L1041.5 1334.5L1038.9 1334.6L1036.4 1334.6L1033.9 1334.6L1031.4 1334.5L1028.9 1334.4" fill="none" stroke="#00f" stroke-width="10" stroke-linejoin="round" stroke-linecap="round"/>
<g clip-path="url(#cm)" fill="#fff" stroke="#000" stroke-width="2.9" stroke-linejoin="miter">
<path d="M1503.8 145.0L1520.1 116.8L1487.5 116.8Z"/>
<path d="M1438.9 263.5L1455.2 235.3L1422.6 235.3Z"/>
<path d="M1374.0 375.9L1390.3 347.6L1357.7 347.6Z"/>
<path d="M1309.1 482.6L1325.4 454.4L1292.8 454.4Z"/>
<path d="M1244.2 582.6L1260.5 554.4L1227.9 554.4Z"/>
<path d="M1179.3 676.4L1195.6 648.2L1163.0 648.2Z"/>
<path d="M1114.4 764.9L1130.7 736.7L1098.1 736.7Z"/>
<path d="M1049.5 846.5L1065.8 818.3L1033.2 818.3Z"/>
<path d="M984.6 923.1L1000.9 894.9L968.3 894.9Z"/>
<path d="M919.7 993.6L936.0 965.4L903.4 965.4Z"/>
<path d="M854.8 1056.7L871.1 1028.5L838.5 1028.5Z"/>
<path d="M789.9 1114.7L806.2 1086.5L773.6 1086.5Z"/>
<path d="M725.0 1166.8L741.3 1138.6L708.7 1138.6Z"/>
<path d="M660.1 1212.4L676.4 1184.2L643.8 1184.2Z"/>
<path d="M595.2 1252.1L611.5 1223.9L578.9 1223.9Z"/>
<path d="M530.3 1285.3L546.6 1257.1L514.0 1257.1Z"/>
<path d="M465.4 1313.1L481.7 1284.9L449.1 1284.9Z"/>
<path d="M400.5 1333.8L416.8 1305.6L384.2 1305.6Z"/>
<path d="M335.6 1348.5L351.9 1320.4L319.3 1320.4Z"/>
<path d="M270.7 1357.5L287.0 1329.3L254.4 1329.3Z"/>
</g>
<path d="M239 109.0H395.5" stroke="#000" stroke-width="10" stroke-linecap="round" fill="none"/>
<text class="lg" text-anchor="start" transform="translate(414.0 132.8) scale(0.985 1)">PLA</text>
<g fill="#fff" stroke="#000" stroke-width="2.9"><rect x="304.8" y="184.8" width="24.2" height="24.2"/></g>
<text class="lg" text-anchor="start" transform="translate(414.0 220.7) scale(0.985 1)">FEA PLA</text>
<path d="M239 284.74H395.5" stroke="#f00" stroke-width="10" stroke-linecap="round" fill="none"/>
<text class="lg" text-anchor="start" transform="translate(414.0 308.5) scale(0.985 1)">PLA/MMT1</text>
<g fill="#fff" stroke="#000" stroke-width="2.9"><circle cx="316.9" cy="372.6" r="13.6"/></g>
<text class="lg" text-anchor="start" transform="translate(414.0 396.4) scale(0.985 1)">FEA PLA/MMT1</text>
<path d="M239 460.48H395.5" stroke="#0f0" stroke-width="10" stroke-linecap="round" fill="none"/>
<text class="lg" text-anchor="start" transform="translate(414.0 484.3) scale(0.985 1)">PLA/MMT2</text>
<g fill="#fff" stroke="#000" stroke-width="2.9"><path d="M316.9 529.6L333.2 557.9L300.6 557.9Z"/></g>
<text class="lg" text-anchor="start" transform="translate(414.0 572.1) scale(0.985 1)">FEA PLA/MMT2</text>
<path d="M239 636.22H395.5" stroke="#00f" stroke-width="10" stroke-linecap="round" fill="none"/>
<text class="lg" text-anchor="start" transform="translate(414.0 660.0) scale(0.985 1)">PLA/MMT4</text>
<g fill="#fff" stroke="#000" stroke-width="2.9"><path d="M316.9 742.8L333.2 714.6L300.6 714.6Z"/></g>
<text class="lg" text-anchor="start" transform="translate(414.0 747.9) scale(0.985 1)">FEA PLA/MMT4</text>
</svg></body></html>
